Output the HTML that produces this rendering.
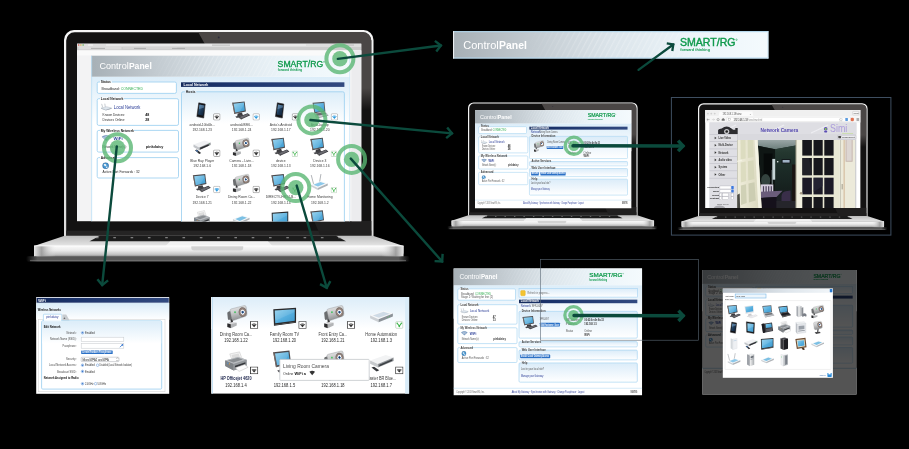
<!DOCTYPE html>
<html><head><meta charset="utf-8"><title>ControlPanel overview</title>
<style>
html,body{margin:0;padding:0;background:#000;}
body{width:909px;height:449px;overflow:hidden;font-family:"Liberation Sans", sans-serif;}
svg{display:block;position:absolute;left:0;top:0;}
text{font-family:"Liberation Sans", sans-serif;}
</style></head><body>
<svg width="909" height="449" viewBox="0 0 909 449">
<defs>
<filter id="softblur" x="0" y="0" width="909" height="449" filterUnits="userSpaceOnUse" color-interpolation-filters="sRGB"><feGaussianBlur stdDeviation="0.42"/></filter>

<linearGradient id="g-scr" x1="0" y1="0" x2="1" y2="1">
 <stop offset="0" stop-color="#8fd0ee"/><stop offset="0.55" stop-color="#55aede"/><stop offset="1" stop-color="#3f98cc"/>
</linearGradient>
<linearGradient id="g-cam" x1="0" y1="0" x2="0.3" y2="1">
 <stop offset="0" stop-color="#eeeeee"/><stop offset="0.5" stop-color="#c9cacb"/><stop offset="1" stop-color="#8e9092"/>
</linearGradient>
<linearGradient id="g-silver" x1="0" y1="0" x2="0" y2="1">
 <stop offset="0" stop-color="#fafafa"/><stop offset="1" stop-color="#b4b8bc"/>
</linearGradient>
<linearGradient id="g-silverh" x1="0" y1="0" x2="1" y2="0">
 <stop offset="0" stop-color="#f4f4f4"/><stop offset="1" stop-color="#a8acb0"/>
</linearGradient>
<linearGradient id="g-dark" x1="0" y1="0" x2="1" y2="1">
 <stop offset="0" stop-color="#5a5a5e"/><stop offset="1" stop-color="#1c1c1e"/>
</linearGradient>
<linearGradient id="g-phone" x1="0" y1="0" x2="1" y2="1">
 <stop offset="0" stop-color="#4a7ea8"/><stop offset="0.5" stop-color="#1d3a58"/><stop offset="1" stop-color="#0c1a2c"/>
</linearGradient>
<radialGradient id="g-lens" cx="0.5" cy="0.5" r="0.5">
 <stop offset="0" stop-color="#1c2c4c"/><stop offset="0.24" stop-color="#3c6ea8"/><stop offset="0.34" stop-color="#f6f6f6"/>
 <stop offset="0.5" stop-color="#e4e4e4"/><stop offset="0.56" stop-color="#9c8c86"/><stop offset="0.88" stop-color="#86766f"/><stop offset="1" stop-color="#6a625e"/>
</radialGradient>

<symbol id="i-desktop" viewBox="0 0 40 40" preserveAspectRatio="none">
 <polygon points="13,26.5 22,24.8 24,30.6 12,32.6" fill="#3c3c40"/>
 <polygon points="8,32.8 24,29.3 27,31.8 11,35.8" fill="#4a4a4e"/>
 <polygon points="1.6,4.6 27.6,2 30.2,22.4 6,27.6" fill="#4a4a4e"/>
 <polygon points="1.6,4.6 3.4,4.4 7.6,27.2 6,27.6" fill="#7a6a64"/>
 <polygon points="4.4,6.6 26,4.4 28.2,20.6 7.8,24.8" fill="url(#g-scr)"/>
 <polygon points="4.4,6.6 26,4.4 26.4,8.6 16,25 7.8,24.8" fill="#fff" opacity="0.12"/>
 <polygon points="15,33.6 34,26.2 39.5,30.2 21,38.6" fill="#38383c"/>
 <polygon points="17,33.8 33.6,27.3 37,29.9 21.4,37" fill="#6a6a70"/>
 <polygon points="15,33.6 21,38.6 21,39.7 15,34.8" fill="#222"/>
</symbol>

<symbol id="i-imac" viewBox="0 0 40 40" preserveAspectRatio="none">
 <polygon points="14,27 22,26 23,32 13,33" fill="#c8c8cc"/>
 <polygon points="9,33 25,30.5 27,32.5 11,35.5" fill="#dcdce0"/>
 <polygon points="3,6 28,3 29,23 6,27.5" fill="#e4e4e8"/>
 <polygon points="5,8 26.4,5.2 27.2,19.6 7.6,23.4" fill="url(#g-scr)"/>
 <polygon points="15,35 34,29 39,32 21,39" fill="#ececf0" stroke="#bbb" stroke-width="0.6"/>
</symbol>

<symbol id="i-phone" viewBox="0 0 40 40" preserveAspectRatio="none">
 <polygon points="14,5 27.6,7.6 24.4,36 10,33" fill="#121214" stroke="#2c2c30" stroke-width="1.2" stroke-linejoin="round"/>
 <polygon points="15.4,8.6 26,10.6 23.4,31.2 12.6,28.8" fill="url(#g-phone)"/>
 <polygon points="15.4,8.6 26,10.6 25.4,14.6 14,18" fill="#9cc4e4" opacity="0.35"/>
</symbol>

<symbol id="i-tablet" viewBox="0 0 40 40" preserveAspectRatio="none">
 <polygon points="8,4 31,7 29.5,37 9,33" fill="#1a1a1c" stroke="#333" stroke-width="1" stroke-linejoin="round"/>
 <polygon points="11,8 28.4,10.4 27.2,32.6 11.6,29.6" fill="url(#g-scr)"/>
 <polygon points="11,8 28.4,10.4 28,18 11.4,24" fill="#fff" opacity="0.15"/>
</symbol>

<symbol id="i-laptop" viewBox="0 0 40 40" preserveAspectRatio="none">
 <polygon points="6,5 31,3 33,23 10,26" fill="#5a5a5e"/>
 <polygon points="8,7 29.4,5.2 31,21.4 11.4,23.8" fill="url(#g-scr)"/>
 <polygon points="10,26 33,23 39.5,30 14,35.5" fill="#c4c6ca"/>
 <polygon points="12.5,26.8 32,24.2 35.4,28 15.4,31.4" fill="#6c6e72"/>
 <polygon points="14,35.5 39.5,30 39.5,31.4 14,37" fill="#8a8c90"/>
 <polygon points="10,26 14,35.5 14,37 9.6,27" fill="#9a9ca0"/>
</symbol>

<symbol id="i-laptopdark" viewBox="0 0 40 40" preserveAspectRatio="none">
 <polygon points="4,7 29,4 31,22 9,26" fill="#2c2c30"/>
 <polygon points="6,9 27.4,6.4 29,20.4 10.2,23.8" fill="url(#g-scr)"/>
 <polygon points="9,26 31,22 39,29 15,35" fill="#3a3a3e"/>
 <polygon points="12,26.6 30.4,23.4 34.6,27.2 15,31" fill="#1c1c20"/>
 <polygon points="15,35 39,29 39,30.4 15,36.6" fill="#222"/>
</symbol>

<symbol id="i-bluray" viewBox="0 0 40 40" preserveAspectRatio="none">
 <polygon points="3,16 26,8 39,12 15,22" fill="#f0f1f3"/>
 <polygon points="3,16 15,22 15,27.5 3,21" fill="#c2c5c9"/>
 <polygon points="15,22 39,12 39,17 15,27.5" fill="#8c9094"/>
 <polygon points="17,22.8 35,15.2 35,18.4 17,26" fill="#2a2c30"/>
 <circle cx="37" cy="14.6" r="0.9" fill="#4ac060"/>
 <polygon points="6,27.5 10,26 19,33.5 15,35.5" fill="#2e3034"/>
 <polygon points="7.5,28 10,27 13,29.6 10.4,30.6" fill="#4a7ec0"/>
</symbol>

<symbol id="i-switch" viewBox="0 0 40 40" preserveAspectRatio="none">
 <polygon points="3,17 27,8 39,12 15,23" fill="#f2f3f4"/>
 <polygon points="3,17 15,23 15,29 3,22.5" fill="#c6c9cc"/>
 <polygon points="15,23 39,12 39,18 15,29" fill="#8e9296"/>
 <polygon points="17,24.4 37,15.2 37,17.6 17,27" fill="#3c4044"/>
 <polygon points="5,29 9,27.6 17,33.6 13,35.4" fill="#34363a"/>
</symbol>

<symbol id="i-box" viewBox="0 0 40 40" preserveAspectRatio="none">
 <polygon points="3,18 24,10 38,14.5 16,24" fill="#f6f7f8"/>
 <polygon points="7,17.8 23.6,11.6 33.6,14.8 16.4,21.6" fill="#cfdbe6"/>
 <polygon points="3,18 16,24 16,29 3,22.6" fill="#ccd0d4"/>
 <polygon points="16,24 38,14.5 38,19.4 16,29" fill="#8c9298"/>
 <circle cx="30" cy="20.6" r="0.8" fill="#4ac060"/><circle cx="33" cy="19.2" r="0.8" fill="#4ac060"/>
</symbol>

<symbol id="i-scanner" viewBox="0 0 40 40" preserveAspectRatio="none">
 <polygon points="3,20 23,12 38,17 17,26.5" fill="#f4f6f8"/>
 <polygon points="8,19.8 22.6,14 32.6,17.2 17.4,23.8" fill="#7cc0e4"/>
 <polygon points="3,20 17,26.5 17,30 3,23.4" fill="#ccd0d4"/>
 <polygon points="17,26.5 38,17 38,20.6 17,30" fill="#b0b4b8"/>
</symbol>

<symbol id="i-camera" viewBox="0 0 40 40" preserveAspectRatio="none">
 <polygon points="8.4,24 12.6,23 13.2,32 9.8,32.6" fill="#38383a"/>
 <polygon points="3,31.6 9.4,30.2 9.4,39.3 3,37.6" fill="#2c2c2e"/>
 <polygon points="9.4,31 19.8,30.4 19.8,35 9.4,39.3" fill="#b2b4b6"/>
 <polygon points="3,31.6 12,29.4 19.8,30.4 9.4,32.8" fill="#dadadc"/>
 <path d="M3 15 Q3 13 5 12.4 L9 11 L12 24.6 L6.5 25.8 Q4.4 26 4 23.8 Z" fill="#6c6e70"/>
 <path d="M8 11 Q7.6 8.6 10 8 L33 2.6 Q36 2 36.6 5 L38 16 Q38.4 19 35.4 20 L14.6 26.6 Q11.6 27.4 11 24.4 Z" fill="url(#g-cam)" stroke="#858789" stroke-width="0.6"/>
 <ellipse cx="30.2" cy="13.2" rx="7" ry="7.9" fill="url(#g-lens)" transform="rotate(-12 30.2 13.2)"/>
 <rect x="15.4" y="12" width="2.7" height="2.7" fill="#3cc05a"/>
</symbol>

<symbol id="i-camera2" viewBox="0 0 40 40" preserveAspectRatio="none">
 <polygon points="20,22 23.4,22 22,34 19,34" fill="#3a3a3c"/>
 <polygon points="12,33.5 26,32 29,35 16,38" fill="#444446"/>
 <path d="M9 9 Q9 5.5 12.5 5 L27 2.5 Q31 2 31.6 5.6 L33.4 18 Q33.8 21.5 30.4 22.4 L15 26 Q11.4 26.6 10.8 23 Z" fill="url(#g-cam)" stroke="#8c8e90" stroke-width="0.7"/>
 <ellipse cx="26.4" cy="12.4" rx="6.6" ry="7.6" fill="url(#g-lens)" transform="rotate(-12 26.4 12.4)"/>
</symbol>

<symbol id="i-tv" viewBox="0 0 40 40" preserveAspectRatio="none">
 <polygon points="2,7 37,4.5 37,30 3,35.5" fill="#2a2a2c"/>
 <polygon points="4.2,9.2 35,7 35,27.8 5,32.6" fill="url(#g-scr)"/>
 <polygon points="4.2,9.2 35,7 35,12 5,28" fill="#fff" opacity="0.1"/>
 <polygon points="3,35.5 37,30 37,31.6 3,37.2" fill="#111"/>
</symbol>

<symbol id="i-router" viewBox="0 0 40 40" preserveAspectRatio="none">
 <line x1="8" y1="22" x2="3.5" y2="5" stroke="#9a9ea2" stroke-width="1.6" stroke-linecap="round"/>
 <line x1="21" y1="17.5" x2="23.5" y2="3" stroke="#9a9ea2" stroke-width="1.6" stroke-linecap="round"/>
 <polygon points="3,24 23,16.5 38,21.5 17,30.5" fill="#f4f6f8"/>
 <polygon points="8,23.8 22.6,18.4 32.4,21.6 17.4,27.6" fill="#8cc8ea"/>
 <polygon points="3,24 17,30.5 17,34.5 3,27.6" fill="#ccd0d4"/>
 <polygon points="17,30.5 38,21.5 38,25.4 17,34.5" fill="#aeb2b6"/>
</symbol>

<symbol id="i-printer" viewBox="0 0 40 40" preserveAspectRatio="none">
 <polygon points="11,6 26,2.5 30,14 15,18.5" fill="#f4f4f4" stroke="#b4b4b4" stroke-width="0.6"/>
 <polygon points="13.5,8 24.6,5.4 26.6,11 15.6,14" fill="#dcdcdc"/>
 <polygon points="4,17 24,11 37,16 37,26 17,34 4,26.5" fill="#a2a6aa"/>
 <polygon points="4,17 24,11 37,16 17,23" fill="#b9bcc0"/>
 <polygon points="8,17.2 23.6,12.6 31,15.4 16.6,20.4" fill="#8a8e92"/>
 <polygon points="4,17 17,23 17,34 4,26.5" fill="#7e8286"/>
 <polygon points="17,23 37,16 37,26 17,34" fill="#94989c"/>
 <polygon points="19,26 35,20 35,23 19,29.4" fill="#36383c"/>
 <polygon points="19.6,29.4 34,24 39.4,28.6 25.4,35.6" fill="#fdfdfd" stroke="#a8a8a8" stroke-width="0.6"/>
 <circle cx="8" cy="21.6" r="0.9" fill="#4a9ae0"/><circle cx="10.6" cy="22.8" r="0.9" fill="#e8a040"/>
</symbol>

<symbol id="i-copier" viewBox="0 0 40 40" preserveAspectRatio="none">
 <polygon points="6,6 30,4 34,9 10,11.5" fill="#f2f4f6" stroke="#b8bcc0" stroke-width="0.6"/>
 <polygon points="10,11.5 34,9 34,34 10,37.5" fill="#e6e8ec" stroke="#b8bcc0" stroke-width="0.6"/>
 <polygon points="6,6 10,11.5 10,37.5 6,32" fill="#bcc0c6"/>
 <polygon points="14,16 30,14.4 30,24 14,26" fill="#9aa0a8"/>
 <polygon points="13,29 31,27 31,29 13,31" fill="#8a9098"/>
</symbol>

<symbol id="i-tower" viewBox="0 0 40 40" preserveAspectRatio="none">
 <polygon points="10,5 22,2.5 30,5 18,8" fill="#e6e8ea"/>
 <polygon points="10,5 18,8 18,38 10,33.5" fill="#9ea2a8"/>
 <polygon points="18,8 30,5 30,34 18,38" fill="url(#g-silverh)"/>
 <polygon points="20,11 28,9.2 28,14 20,16" fill="#6a7078"/>
 <polygon points="20,18 28,16.4 28,18 20,19.8" fill="#8a9098"/>
</symbol>

<symbol id="i-nas" viewBox="0 0 40 40" preserveAspectRatio="none">
 <polygon points="11,5 24,2.5 31,5 18,8" fill="#f6f7f8"/>
 <polygon points="11,5 18,8 18,38 11,33.5" fill="#f0f2f4" stroke="#c4c8cc" stroke-width="0.5"/>
 <polygon points="18,8 31,5 31,34 18,38" fill="#c0c4c8"/>
 <polygon points="23,9 29,7.6 29,32 23,34.4" fill="#7a8088"/>
 <circle cx="13.5" cy="11" r="0.9" fill="#3cc05a"/><circle cx="13.5" cy="14" r="0.9" fill="#3cc05a"/>
</symbol>

<symbol id="i-whitebox" viewBox="0 0 40 40" preserveAspectRatio="none">
 <polygon points="11,5 23,3 29,5.5 17,8" fill="#fafbfc"/>
 <polygon points="11,5 17,8 17,37 11,33" fill="#d4d8dc"/>
 <polygon points="17,8 29,5.5 29,33.5 17,37" fill="#eef0f3" stroke="#c8ccd0" stroke-width="0.5"/>
 <polygon points="19,12 27,10.4 27,12 19,13.6" fill="#a8c4dc"/>
</symbol>

<symbol id="i-blacktower" viewBox="0 0 40 40" preserveAspectRatio="none">
 <polygon points="10,5 22,3 31,6 19,8.5" fill="#4a4a4e"/>
 <polygon points="10,5 19,8.5 19,38 10,33.5" fill="#38383c"/>
 <polygon points="19,8.5 31,6 31,34 19,38" fill="#1e1e22"/>
</symbol>

<symbol id="i-console" viewBox="0 0 40 40" preserveAspectRatio="none">
 <polygon points="8,5 16,3 22,5 14,7.4" fill="#eceef0"/>
 <polygon points="8,5 14,7.4 14,36 8,32" fill="#a8acb2"/>
 <polygon points="14,7.4 22,5 22,33 14,36" fill="url(#g-silverh)"/>
 <polygon points="22,10 27,8.6 27,31 22,33" fill="#8a8e94"/>
 <path d="M24 29 Q28 24 33 26 Q37 27.6 36 33 Q34 36 31 33 L28 33.6 Q25 36.6 23.6 33.6 Z" fill="#7c8088"/>
</symbol>

<symbol id="i-voip" viewBox="0 0 40 40" preserveAspectRatio="none">
 <polygon points="4,10 33,6 36,30 8,35.5" fill="#3a3a3e"/>
 <polygon points="4,10 11,9 14,34 8,35.5" fill="#1c1c20"/>
 <polygon points="15,11 31,8.8 32.4,19 16,21.6" fill="url(#g-scr)"/>
 <polygon points="16.4,24 33,21.4 34,29 17.4,32" fill="#5a5a60"/>
</symbol>

<symbol id="i-frame" viewBox="0 0 40 40" preserveAspectRatio="none">
 <polygon points="5,7 33,4 36,30 9,35" fill="#6a4a30"/>
 <polygon points="8.4,10.2 30.4,7.8 32.6,27.2 11.6,31" fill="#e8e0c8"/>
 <polygon points="10.6,12.4 28.6,10.4 30.4,25.4 13.2,28.4" fill="url(#g-scr)"/>
 <polygon points="22,33 29,31.6 31,37 26,38" fill="#4a3420"/>
</symbol>

<!-- small status boxes -->
<symbol id="s-wifi" viewBox="0 0 10 10" preserveAspectRatio="none">
 <rect x="0.6" y="0.6" width="8.8" height="8.8" rx="1.6" fill="#fff" stroke="#8a8a8a" stroke-width="1"/>
 <path d="M5 8 L1.8 4.2 Q5 1.8 8.2 4.2 Z" fill="#2c2c2c"/>
 <path d="M2.6 4.9 Q5 3.2 7.4 4.9" fill="none" stroke="#fff" stroke-width="0.6"/>
</symbol>
<symbol id="s-wifisq" viewBox="0 0 10 10" preserveAspectRatio="none">
 <rect x="0.5" y="0.5" width="9" height="9" fill="#fff" stroke="#2a2a2a" stroke-width="1"/>
 <path d="M5 7.8 L1.9 4.2 Q5 1.9 8.1 4.2 Z" fill="#2c2c2c"/>
 <path d="M2.8 5 Q5 3.4 7.2 5" fill="none" stroke="#fff" stroke-width="0.6"/>
</symbol>
<symbol id="s-wifib" viewBox="0 0 10 10" preserveAspectRatio="none">
 <rect x="0.6" y="0.6" width="8.8" height="8.8" rx="1.6" fill="#fff" stroke="#a8a8a8" stroke-width="1"/>
 <path d="M5 8 L1.8 4.2 Q5 1.8 8.2 4.2 Z" fill="#2a9ae0"/>
 <path d="M2.6 4.9 Q5 3.2 7.4 4.9" fill="none" stroke="#fff" stroke-width="0.6"/>
</symbol>
<symbol id="s-eth" viewBox="0 0 10 10" preserveAspectRatio="none">
 <rect x="0.6" y="0.6" width="8.8" height="8.8" rx="1.2" fill="#fff" stroke="#a9c4a9" stroke-width="0.9"/>
 <path d="M2.4 2.6 L5 6.4 L7.6 2.6" fill="none" stroke="#3cb44a" stroke-width="1.3"/>
 <circle cx="2.4" cy="2.6" r="0.9" fill="#3cb44a"/><circle cx="7.6" cy="2.6" r="0.9" fill="#3cb44a"/><circle cx="5" cy="7" r="1" fill="#3cb44a"/>
</symbol>

<!-- left column small icons -->
<symbol id="s-router" viewBox="0 0 22 14" preserveAspectRatio="none">
 <line x1="4" y1="8" x2="2" y2="1" stroke="#8a94a0" stroke-width="0.9"/>
 <line x1="9" y1="7" x2="8" y2="0.5" stroke="#8a94a0" stroke-width="0.9"/>
 <polygon points="1,9 12,6.4 21,9 10,12.6" fill="#dfe7ee" stroke="#9aa6b2" stroke-width="0.6"/>
 <polygon points="1,9 10,12.6 10,13.8 1,10.4" fill="#aab4be"/>
 <polygon points="10,12.6 21,9 21,10.4 10,13.8" fill="#8e98a4"/>
</symbol>
<symbol id="s-wifiicon" viewBox="0 0 20 14" preserveAspectRatio="none">
 <path d="M10 13 L1 4.4 Q10 -2.4 19 4.4 Z" fill="#7a9cc4"/>
 <path d="M3.4 6.4 Q10 1.4 16.6 6.4" fill="none" stroke="#fff" stroke-width="1.1"/>
 <path d="M5.8 8.8 Q10 5.6 14.2 8.8" fill="none" stroke="#fff" stroke-width="1.1"/>
 <path d="M10 13 L1 4.4 Q10 -2.4 19 4.4 Z" fill="none" stroke="#5a7ca8" stroke-width="0.6"/>
</symbol>
<symbol id="s-globe" viewBox="0 0 14 14" preserveAspectRatio="none">
 <circle cx="7" cy="7" r="6.2" fill="#4a9ad4" stroke="#2a6aa4" stroke-width="0.8"/>
 <path d="M3 4 Q6 2 8 4.6 Q10 7 7 8 Q4 8.4 3 4 Z" fill="#e8f2f8"/>
 <path d="M8 9 Q11 8 11.6 10 Q10 12.4 8 11.6 Z" fill="#e8f2f8"/>
 <circle cx="7" cy="7" r="6.2" fill="none" stroke="#1c4a7c" stroke-width="0.5"/>
</symbol>


<linearGradient id="lg-front" x1="0" y1="0" x2="0" y2="1">
 <stop offset="0" stop-color="#fbfbfb"/><stop offset="0.45" stop-color="#e9e9e9"/>
 <stop offset="0.8" stop-color="#c4c4c4"/><stop offset="1" stop-color="#8e8e8e"/>
</linearGradient>
<linearGradient id="lg-capl" x1="0" y1="0" x2="1" y2="0">
 <stop offset="0" stop-color="#e8e8e8"/><stop offset="0.35" stop-color="#9a9a9a" stop-opacity="0.9"/>
 <stop offset="1" stop-color="#e8e8e8" stop-opacity="0"/>
</linearGradient>
<linearGradient id="lg-capr" x1="1" y1="0" x2="0" y2="0">
 <stop offset="0" stop-color="#e8e8e8"/><stop offset="0.35" stop-color="#9a9a9a" stop-opacity="0.9"/>
 <stop offset="1" stop-color="#e8e8e8" stop-opacity="0"/>
</linearGradient>
<linearGradient id="lg-top" x1="0" y1="0" x2="0" y2="1">
 <stop offset="0" stop-color="#bdbdbd"/><stop offset="1" stop-color="#e6e6e6"/>
</linearGradient>
<linearGradient id="lg-glare" gradientUnits="userSpaceOnUse" x1="0" y1="58" x2="0" y2="80">
 <stop offset="0" stop-color="#4a4645"/><stop offset="1" stop-color="#4a4645" stop-opacity="0"/>
</linearGradient>
<linearGradient id="lg-rim" x1="0" y1="0" x2="0" y2="1">
 <stop offset="0" stop-color="#f6f6f6"/><stop offset="1" stop-color="#dcdcdc"/>
</linearGradient>
<linearGradient id="lg-shadow" x1="0" y1="0" x2="1" y2="0">
 <stop offset="0" stop-color="#555" stop-opacity="0"/><stop offset="0.03" stop-color="#585858"/>
 <stop offset="0.97" stop-color="#585858"/><stop offset="1" stop-color="#555" stop-opacity="0"/>
</linearGradient>
<clipPath id="cp-lid"><path d="M10.6 2.2 H298.9 A8.4 8.4 0 0 1 307.3 10.6 V205.8 H2.2 V10.6 A8.4 8.4 0 0 1 10.6 2.2 Z"/></clipPath>
<symbol id="laptop" viewBox="-40 0 390 235" overflow="visible">
 <!-- shadow under base -->
 <rect x="-38" y="226.2" width="384" height="5.2" rx="2" fill="url(#lg-shadow)"/>
 <rect x="-34" y="229.9" width="376" height="1.3" fill="#7c7c7c" opacity="0.6"/>
 <!-- lid -->
 <path d="M10 0 H299.5 A10 10 0 0 1 309.5 10 V207 H0 V10 A10 10 0 0 1 10 0 Z" fill="url(#lg-rim)"/>
 <path d="M10.6 2.2 H298.9 A8.4 8.4 0 0 1 307.3 10.6 V207 H2.2 V10.6 A8.4 8.4 0 0 1 10.6 2.2 Z" fill="#131212"/>
 <rect x="2.2" y="200.6" width="305.1" height="5.4" fill="#252424"/>
 <g clip-path="url(#cp-lid)" class="glare">
  <polygon points="133,0 309.5,0 309.5,84 180,84" fill="url(#lg-glare)"/>
  <polygon points="250,191 309.5,191 309.5,207 257,207" fill="#201f1f"/>
 </g>
 <circle cx="154.7" cy="7.4" r="0.9" fill="#2a2a3a"/>
 <!-- base top surface -->
 <polygon points="0.6,205.8 308.9,205.8 339.5,216 -30,216" fill="url(#lg-top)"/>
 <polygon points="36,205.8 272,205.8 282,211.2 25.5,211.2" fill="#1c1c1c"/>
 <g fill="#a8a8a8">
  <rect x="32.0" y="207.3" width="2.6" height="0.9"/><rect x="49.3" y="207.3" width="2.6" height="0.9"/><rect x="66.6" y="207.3" width="2.6" height="0.9"/><rect x="83.9" y="207.3" width="2.6" height="0.9"/><rect x="101.2" y="207.3" width="2.6" height="0.9"/><rect x="118.5" y="207.3" width="2.6" height="0.9"/><rect x="135.8" y="207.3" width="2.6" height="0.9"/><rect x="153.1" y="207.3" width="2.6" height="0.9"/><rect x="170.4" y="207.3" width="2.6" height="0.9"/><rect x="187.7" y="207.3" width="2.6" height="0.9"/><rect x="205.0" y="207.3" width="2.6" height="0.9"/><rect x="222.3" y="207.3" width="2.6" height="0.9"/><rect x="239.6" y="207.3" width="2.6" height="0.9"/><rect x="256.9" y="207.3" width="2.6" height="0.9"/><rect x="274.2" y="207.3" width="2.6" height="0.9"/>
 </g>
 <polygon points="106,211.6 204,211.6 208.5,216 101.5,216" fill="#f2f2f2"/>
 <!-- front face -->
 <path d="M-30 215.8 H339.5 V222.5 A4 4 0 0 1 335.5 226.5 H-26 A4 4 0 0 1 -30 222.5 Z" fill="url(#lg-front)"/>
 <rect x="-30" y="216" width="22" height="10.3" fill="url(#lg-capl)"/>
 <rect x="317.5" y="216" width="22" height="10.3" fill="url(#lg-capr)"/>
 <path d="M127.3 216 H179.2 V217.8 A2.6 2.6 0 0 1 176.6 220.4 H129.9 A2.6 2.6 0 0 1 127.3 217.8 Z" fill="#d2d2d2"/>
 <rect x="-30" y="215.6" width="369.5" height="0.7" fill="#fff"/>
</symbol>

<symbol id="laptop-ng" viewBox="-40 0 390 235" overflow="visible">
 <!-- shadow under base -->
 <rect x="-38" y="226.2" width="384" height="5.2" rx="2" fill="url(#lg-shadow)"/>
 <rect x="-34" y="229.9" width="376" height="1.3" fill="#7c7c7c" opacity="0.6"/>
 <!-- lid -->
 <path d="M10 0 H299.5 A10 10 0 0 1 309.5 10 V207 H0 V10 A10 10 0 0 1 10 0 Z" fill="url(#lg-rim)"/>
 <path d="M10.6 2.2 H298.9 A8.4 8.4 0 0 1 307.3 10.6 V207 H2.2 V10.6 A8.4 8.4 0 0 1 10.6 2.2 Z" fill="#131212"/>
 <rect x="2.2" y="200.6" width="305.1" height="5.4" fill="#252424"/>
 
 <circle cx="154.7" cy="7.4" r="0.9" fill="#2a2a3a"/>
 <!-- base top surface -->
 <polygon points="0.6,205.8 308.9,205.8 339.5,216 -30,216" fill="url(#lg-top)"/>
 <polygon points="36,205.8 272,205.8 282,211.2 25.5,211.2" fill="#1c1c1c"/>
 <g fill="#a8a8a8">
  <rect x="32.0" y="207.3" width="2.6" height="0.9"/><rect x="49.3" y="207.3" width="2.6" height="0.9"/><rect x="66.6" y="207.3" width="2.6" height="0.9"/><rect x="83.9" y="207.3" width="2.6" height="0.9"/><rect x="101.2" y="207.3" width="2.6" height="0.9"/><rect x="118.5" y="207.3" width="2.6" height="0.9"/><rect x="135.8" y="207.3" width="2.6" height="0.9"/><rect x="153.1" y="207.3" width="2.6" height="0.9"/><rect x="170.4" y="207.3" width="2.6" height="0.9"/><rect x="187.7" y="207.3" width="2.6" height="0.9"/><rect x="205.0" y="207.3" width="2.6" height="0.9"/><rect x="222.3" y="207.3" width="2.6" height="0.9"/><rect x="239.6" y="207.3" width="2.6" height="0.9"/><rect x="256.9" y="207.3" width="2.6" height="0.9"/><rect x="274.2" y="207.3" width="2.6" height="0.9"/>
 </g>
 <polygon points="106,211.6 204,211.6 208.5,216 101.5,216" fill="#f2f2f2"/>
 <!-- front face -->
 <path d="M-30 215.8 H339.5 V222.5 A4 4 0 0 1 335.5 226.5 H-26 A4 4 0 0 1 -30 222.5 Z" fill="url(#lg-front)"/>
 <rect x="-30" y="216" width="22" height="10.3" fill="url(#lg-capl)"/>
 <rect x="317.5" y="216" width="22" height="10.3" fill="url(#lg-capr)"/>
 <path d="M127.3 216 H179.2 V217.8 A2.6 2.6 0 0 1 176.6 220.4 H129.9 A2.6 2.6 0 0 1 127.3 217.8 Z" fill="#d2d2d2"/>
 <rect x="-30" y="215.6" width="369.5" height="0.7" fill="#fff"/>
</symbol>

<linearGradient id="lg-banner" x1="0" y1="0" x2="1" y2="0">
 <stop offset="0" stop-color="#a7b0b6"/><stop offset="0.22" stop-color="#bfc7cd"/>
 <stop offset="0.5" stop-color="#dbe4ea"/><stop offset="0.75" stop-color="#ebf4f9"/><stop offset="1" stop-color="#f4fafd"/>
</linearGradient>
<linearGradient id="lg-pagetop" x1="0" y1="0" x2="0" y2="1">
 <stop offset="0" stop-color="#dcedf9"/><stop offset="1" stop-color="#ffffff"/>
</linearGradient>
<linearGradient id="lg-fs" x1="0" y1="0" x2="0" y2="1">
 <stop offset="0" stop-color="#dbecf9"/><stop offset="1" stop-color="#ffffff"/>
</linearGradient>
<linearGradient id="lg-navy" x1="0" y1="0" x2="1" y2="0">
 <stop offset="0" stop-color="#142a5c"/><stop offset="0.3" stop-color="#1c346c"/><stop offset="1" stop-color="#324a80"/>
</linearGradient>
<pattern id="pt-hatch" width="4" height="4" patternUnits="userSpaceOnUse" patternTransform="rotate(-62)">
 <rect x="0" y="0" width="4" height="1.1" fill="#fff" opacity="0.22"/>
</pattern>
<linearGradient id="lg-hfade" x1="0" y1="0" x2="1" y2="0">
 <stop offset="0" stop-color="#fff" stop-opacity="0"/><stop offset="0.35" stop-color="#fff" stop-opacity="1"/>
 <stop offset="0.8" stop-color="#fff" stop-opacity="1"/><stop offset="1" stop-color="#fff" stop-opacity="0"/>
</linearGradient>
<mask id="mk-hatch" maskContentUnits="objectBoundingBox"><rect x="0" y="0" width="1" height="1" fill="url(#lg-hfade)"/></mask>


<linearGradient id="lg-fs2" x1="0" y1="0" x2="0" y2="1">
 <stop offset="0" stop-color="#dcedf9"/><stop offset="0.2" stop-color="#ffffff"/><stop offset="1" stop-color="#ffffff"/>
</linearGradient>
<linearGradient id="lg-mhead" x1="0" y1="0" x2="1" y2="0"><stop offset="0" stop-color="#b2bac2"/><stop offset="0.6" stop-color="#dfe6ec"/><stop offset="1" stop-color="#f2f6f9"/></linearGradient>
<clipPath id="scr1"><rect x="77" y="43.4" width="284.5" height="178"/></clipPath>
<clipPath id="cpclip1"><rect x="0" y="0" width="259" height="166"/></clipPath>
<clipPath id="cpclip2"><rect x="0" y="0" width="259" height="162.8"/></clipPath>
<clipPath id="camclip"><rect x="705.1" y="110" width="155.5" height="98"/></clipPath>

<linearGradient id="lg-room" x1="0" y1="0" x2="0" y2="1">
 <stop offset="0" stop-color="#2c403a"/><stop offset="0.12" stop-color="#24372f"/><stop offset="0.3" stop-color="#1d2e29"/>
 <stop offset="0.7" stop-color="#16201e"/><stop offset="1" stop-color="#221f2a"/>
</linearGradient>
<linearGradient id="lg-ceil" x1="0" y1="0" x2="0" y2="1">
 <stop offset="0" stop-color="#9aa6a6"/><stop offset="1" stop-color="#6c7e7c"/>
</linearGradient>
<linearGradient id="lg-door" x1="0" y1="0" x2="1" y2="0">
 <stop offset="0" stop-color="#f0eedc"/><stop offset="1" stop-color="#d9d7bd"/>
</linearGradient>
<clipPath id="vidclip"><rect x="737.1" y="140" width="118.2" height="68"/></clipPath>
<clipPath id="hzclip"><rect x="211.2" y="297" width="198.1" height="96.8"/></clipPath>
<clipPath id="cpclip3"><rect x="0" y="0" width="259" height="174.4"/></clipPath>
<clipPath id="cpclip4"><rect x="0" y="0" width="259" height="208.9"/></clipPath>
</defs>
<rect x="0" y="0" width="909" height="449" fill="#000"/>
<g filter="url(#softblur)">
<rect x="0" y="0" width="909" height="449" fill="#000"/>
<g transform="translate(64 30) scale(1.0000)" ><use href="#laptop" x="-40" y="0" width="390" height="235"/></g>
<g clip-path="url(#scr1)">
<rect x="77" y="43.4" width="284.5" height="178" fill="#f3f3f4"/>
<rect x="77" y="43.4" width="284.5" height="3.4" fill="#dedede"/>
<circle cx="78.7" cy="45.1" r="0.75" fill="#e0564c"/><circle cx="80.9" cy="45.1" r="0.75" fill="#e0b040"/><circle cx="83.1" cy="45.1" r="0.75" fill="#5cb84c"/>
<rect x="88" y="44.1" width="5" height="1.9" fill="#ececec" rx="0.5"/><rect x="106" y="44.1" width="200" height="1.9" fill="#e9e9e9" rx="0.5"/>
<rect x="212" y="44.7" width="18" height="0.8" fill="#b0b0b0"/><rect x="340" y="44.6" width="14" height="0.9" fill="#b8b8b8"/>
<rect x="77" y="46.8" width="284.5" height="3" fill="#cdcdcd"/>
<rect x="78.5" y="46.8" width="43" height="3" fill="#dcdcdc"/><rect x="123" y="46.8" width="54" height="3" fill="#d4d4d4"/>
<rect x="91" y="47.9" width="14" height="0.8" fill="#a2a2a2"/><rect x="134" y="47.9" width="12" height="0.8" fill="#a2a2a2"/><rect x="172" y="47.9" width="13" height="0.8" fill="#a2a2a2"/>
<rect x="77" y="49.8" width="284.5" height="0.5" fill="#b4b4b4"/>
<rect x="77" y="50.3" width="284.5" height="5.2" fill="#fafafa"/>
<rect x="351.6" y="50.4" width="10" height="171" fill="#ececee"/>
</g>
<g transform="translate(91.2 55.4) scale(1.0000)" ><g clip-path="url(#cpclip1)"><rect x="0" y="0" width="259" height="166" fill="#fff"/><rect x="0" y="21.3" width="259" height="46" fill="url(#lg-pagetop)"/><rect x="0" y="0" width="259" height="21.3" fill="url(#lg-banner)"/><g mask="url(#mk-hatch)"><rect x="56.98" y="0" width="155.4" height="21.3" fill="url(#pt-hatch)"/></g><text transform="translate(8.3 13.75) scale(0.9435 1)" font-size="9.6" fill="#fff">Control</text><text transform="translate(37.7 13.75) scale(0.8941 1)" font-size="9.6" fill="#fff" font-weight="bold">Panel</text><text transform="translate(186.4 11.65) scale(1.0081 1)" font-size="8.6" fill="#0f9a4c" stroke="#0f9a4c" stroke-width="0.34">SMART/RG</text><circle cx="232.8" cy="6.45" r="0.6" fill="none" stroke="#0f9a4c" stroke-width="0.4"/><text transform="translate(186.5 16) scale(0.8973 1)" font-size="3.5" fill="#129a4e" font-weight="bold">forward thinking</text><rect x="6" y="26.6" width="79.2" height="11.4" fill="#fff" stroke="#a3d2f1" stroke-width="0.9" rx="1.6"/><rect x="8.8" y="25.4" width="11.7" height="2.4" fill="#fff"/><text x="9.6" y="27.85" font-size="3.3" fill="#1c1c1c" font-weight="bold">Status</text><text transform="translate(10.4 34.5) scale(0.9784 1)" font-size="3.6" fill="#2b2b2b">Broadband: <tspan fill="#2fae4e">CONNECTED</tspan></text><rect x="6" y="43.3" width="81.3" height="26.7" fill="#fff" stroke="#a3d2f1" stroke-width="0.9" rx="1.6"/><rect x="8.8" y="42.1" width="23.71" height="2.4" fill="#fff"/><text x="9.6" y="44.55" font-size="3.3" fill="#1c1c1c" font-weight="bold">Local Network</text><use href="#s-router" x="9.4" y="47.9" width="11.5" height="7.4" /><text transform="translate(22.6 53.6) scale(0.7497 1)" font-size="5.6" fill="#2c3e98">Local Network</text><text transform="translate(11.4 60.9) scale(0.8717 1)" font-size="3.6" fill="#2b2b2b">Known Devices:</text><text x="54" y="60.9" font-size="3.6" fill="#111" font-weight="bold">48</text><text transform="translate(11.4 65.9) scale(0.8925 1)" font-size="3.6" fill="#2b2b2b">Devices Online:</text><text x="54" y="65.9" font-size="3.6" fill="#111" font-weight="bold">28</text><rect x="6" y="75" width="81.3" height="21.7" fill="#fff" stroke="#a3d2f1" stroke-width="0.9" rx="1.6"/><rect x="8.8" y="73.8" width="34" height="2.4" fill="#fff"/><text x="9.6" y="76.25" font-size="3.3" fill="#1c1c1c" font-weight="bold">My Wireless Network</text><use href="#s-wifiicon" x="10.2" y="79.4" width="9.6" height="6.4" /><text x="22.4" y="84.6" font-size="4.3" fill="#2c3e98" font-weight="bold">WiFi</text><text transform="translate(11.4 92.4) scale(0.9027 1)" font-size="3.3" fill="#2b2b2b">Network Name(s):</text><text transform="translate(54.6 92.4) scale(1.1496 1)" font-size="3.3" fill="#111" font-weight="bold">pinkdaisy</text><rect x="6" y="102.2" width="81.3" height="20.4" fill="#fff" stroke="#a3d2f1" stroke-width="0.9" rx="1.6"/><rect x="8.8" y="101" width="15.13" height="2.4" fill="#fff"/><text x="9.6" y="103.45" font-size="3.3" fill="#1c1c1c" font-weight="bold">Advanced</text><use href="#s-globe" x="11" y="106.9" width="6.8" height="6.8" /><text transform="translate(11.4 118) scale(0.9468 1)" font-size="3.5" fill="#2b2b2b">Active Port Forwards : 32</text><rect x="89.8" y="26.9" width="163.4" height="4.6" fill="url(#lg-navy)"/><text x="92.4" y="30.5" font-size="3.6" fill="#fff" font-weight="bold">Local Network</text><rect x="90.3" y="36.4" width="162.9" height="160" fill="url(#lg-fs2)" stroke="#a3d2f1" stroke-width="0.9" rx="1.6"/><rect x="93.6" y="35.2" width="11.5" height="2.4" fill="#e4f1fb"/><text x="94.6" y="37.6" font-size="3.5" fill="#1c1c1c" font-weight="bold">Hosts</text><use href="#i-phone" x="100.9" y="45" width="19" height="19.6" /><use href="#s-wifi" x="121.9" y="57.8" width="7.4" height="7.4" /><text x="111" y="70.5" font-size="3.35" fill="#3c3c3c" text-anchor="middle">android-10fa6b...</text><text x="111" y="75.8" font-size="3.35" fill="#3c3c3c" text-anchor="middle">192.168.1.23</text><use href="#i-desktop" x="140.3" y="45" width="19" height="19.6" /><use href="#s-wifib" x="161.3" y="57.8" width="7.4" height="7.4" /><text x="150.4" y="70.5" font-size="3.35" fill="#3c3c3c" text-anchor="middle">android-f88f6...</text><text x="150.4" y="75.8" font-size="3.35" fill="#3c3c3c" text-anchor="middle">192.168.1.24</text><use href="#i-phone" x="179.5" y="45" width="19" height="19.6" /><use href="#s-wifi" x="200.5" y="57.8" width="7.4" height="7.4" /><text x="189.6" y="70.5" font-size="3.35" fill="#3c3c3c" text-anchor="middle">Anita's Android</text><text x="189.6" y="75.8" font-size="3.35" fill="#3c3c3c" text-anchor="middle">192.168.1.17</text><use href="#i-laptop" x="218.5" y="45" width="19" height="19.6" /><use href="#s-wifib" x="239.5" y="57.8" width="7.4" height="7.4" /><text x="228.6" y="70.5" font-size="3.35" fill="#3c3c3c" text-anchor="middle">Anita-laptop</text><text x="228.6" y="75.8" font-size="3.35" fill="#3c3c3c" text-anchor="middle">192.168.1.20</text><use href="#i-bluray" x="100.9" y="81.3" width="19" height="19.6" /><use href="#s-wifi" x="121.9" y="94.1" width="7.4" height="7.4" /><text x="111" y="106.8" font-size="3.35" fill="#3c3c3c" text-anchor="middle">Blue Ray Player</text><text x="111" y="112.1" font-size="3.35" fill="#3c3c3c" text-anchor="middle">192.168.1.6</text><use href="#i-camera" x="140.3" y="81.3" width="19" height="19.6" /><use href="#s-wifi" x="161.3" y="94.1" width="7.4" height="7.4" /><text x="150.4" y="106.8" font-size="3.35" fill="#3c3c3c" text-anchor="middle">Camera - Livin...</text><text x="150.4" y="112.1" font-size="3.35" fill="#3c3c3c" text-anchor="middle">192.168.1.18</text><use href="#i-desktop" x="179.5" y="81.3" width="19" height="19.6" /><use href="#s-eth" x="200.5" y="95.2" width="6.3" height="6.3" /><text x="189.6" y="106.8" font-size="3.35" fill="#3c3c3c" text-anchor="middle">device</text><text x="189.6" y="112.1" font-size="3.35" fill="#3c3c3c" text-anchor="middle">192.168.1.13</text><use href="#i-desktop" x="218.5" y="81.3" width="19" height="19.6" /><use href="#s-eth" x="239.5" y="95.2" width="6.3" height="6.3" /><text x="228.6" y="106.8" font-size="3.35" fill="#3c3c3c" text-anchor="middle">Device 3</text><text x="228.6" y="112.1" font-size="3.35" fill="#3c3c3c" text-anchor="middle">192.168.1.16</text><use href="#i-desktop" x="100.9" y="117.6" width="19" height="19.6" /><use href="#s-wifib" x="121.9" y="130.4" width="7.4" height="7.4" /><text x="111" y="143.1" font-size="3.35" fill="#3c3c3c" text-anchor="middle">Device 7</text><text x="111" y="148.4" font-size="3.35" fill="#3c3c3c" text-anchor="middle">192.168.1.21</text><use href="#i-camera" x="140.3" y="117.6" width="19" height="19.6" /><use href="#s-wifi" x="161.3" y="130.4" width="7.4" height="7.4" /><text x="150.4" y="143.1" font-size="3.35" fill="#3c3c3c" text-anchor="middle">Dining Room Ca...</text><text x="150.4" y="148.4" font-size="3.35" fill="#3c3c3c" text-anchor="middle">192.168.1.22</text><use href="#i-desktop" x="179.5" y="117.6" width="19" height="19.6" /><use href="#s-eth" x="200.5" y="131.5" width="6.3" height="6.3" /><text x="189.6" y="143.1" font-size="3.35" fill="#3c3c3c" text-anchor="middle">DIRECTV-HR34-B...</text><text x="189.6" y="148.4" font-size="3.35" fill="#3c3c3c" text-anchor="middle">192.168.1.14</text><use href="#i-router" x="218.5" y="117.6" width="19" height="19.6" /><use href="#s-eth" x="239.5" y="131.5" width="6.3" height="6.3" /><text x="228.6" y="143.1" font-size="3.35" fill="#3c3c3c" text-anchor="middle">Home Monitoring</text><text x="228.6" y="148.4" font-size="3.35" fill="#3c3c3c" text-anchor="middle">192.168.1.2</text><use href="#i-printer" x="100.9" y="153.9" width="19" height="19.6" /><use href="#s-wifi" x="121.9" y="166.7" width="7.4" height="7.4" /><use href="#i-scanner" x="140.3" y="153.9" width="19" height="19.6" /><use href="#s-wifi" x="161.3" y="166.7" width="7.4" height="7.4" /><use href="#i-tv" x="179.5" y="153.9" width="19" height="19.6" /><use href="#s-eth" x="200.5" y="167.8" width="6.3" height="6.3" /><use href="#i-desktop" x="218.5" y="153.9" width="19" height="19.6" /><use href="#s-eth" x="239.5" y="167.8" width="6.3" height="6.3" /><rect x="0" y="0" width="0.9" height="166" fill="#b4dcf4"/><rect x="258.1" y="0" width="0.9" height="166" fill="#cfe8f8"/></g></g>
<g transform="translate(468 102.4) scale(0.5480)" ><use href="#laptop" x="-40" y="0" width="390" height="235"/></g>
<g transform="translate(475 110.1) scale(0.6046)" ><g clip-path="url(#cpclip2)"><rect x="0" y="0" width="259" height="162.8" fill="#fff"/><rect x="0" y="22" width="259" height="46" fill="url(#lg-pagetop)"/><rect x="0" y="0" width="259" height="22" fill="url(#lg-banner)"/><g mask="url(#mk-hatch)"><rect x="56.98" y="0" width="155.4" height="22" fill="url(#pt-hatch)"/></g><text transform="translate(8.3 14.1) scale(0.9435 1)" font-size="9.6" fill="#fff">Control</text><text transform="translate(37.7 14.1) scale(0.8941 1)" font-size="9.6" fill="#fff" font-weight="bold">Panel</text><text transform="translate(186.4 12) scale(1.0081 1)" font-size="8.6" fill="#0f9a4c" stroke="#0f9a4c" stroke-width="0.34">SMART/RG</text><circle cx="232.8" cy="6.8" r="0.6" fill="none" stroke="#0f9a4c" stroke-width="0.4"/><text transform="translate(186.5 16.35) scale(0.8973 1)" font-size="3.5" fill="#129a4e" font-weight="bold">forward thinking</text><rect x="6" y="27.4" width="79.2" height="11.4" fill="#fff" stroke="#a3d2f1" stroke-width="0.9" rx="1.6"/><rect x="8.8" y="26.2" width="11.7" height="2.4" fill="#fff"/><text x="9.6" y="28.65" font-size="4.4" fill="#444444" font-weight="bold">Status</text><text transform="translate(10.4 35.3) scale(0.8006 1)" font-size="4.4" fill="#555555">Broadband: <tspan fill="#2fae4e">CONNECTED</tspan></text><rect x="6" y="44.1" width="81.3" height="26.7" fill="#fff" stroke="#a3d2f1" stroke-width="0.9" rx="1.6"/><rect x="8.8" y="42.9" width="23.71" height="2.4" fill="#fff"/><text x="9.6" y="45.35" font-size="4.4" fill="#444444" font-weight="bold">Local Network</text><use href="#s-router" x="9.4" y="48.7" width="11.5" height="7.4" /><text transform="translate(22.6 54.4) scale(0.7497 1)" font-size="5.6" fill="#2c3e98">Local Network</text><text transform="translate(11.4 61.7) scale(0.7133 1)" font-size="4.4" fill="#555555">Known Devices:</text><text x="54" y="61.7" font-size="4.4" fill="#3a3a3a" font-weight="bold">48</text><text transform="translate(11.4 66.7) scale(0.7303 1)" font-size="4.4" fill="#555555">Devices Online:</text><text x="54" y="66.7" font-size="4.4" fill="#3a3a3a" font-weight="bold">28</text><rect x="6" y="75.8" width="81.3" height="21.7" fill="#fff" stroke="#a3d2f1" stroke-width="0.9" rx="1.6"/><rect x="8.8" y="74.6" width="34" height="2.4" fill="#fff"/><text x="9.6" y="77.05" font-size="4.4" fill="#444444" font-weight="bold">My Wireless Network</text><use href="#s-wifiicon" x="10.2" y="80.2" width="9.6" height="6.4" /><text x="22.4" y="85.4" font-size="4.4" fill="#2c3e98" font-weight="bold">WiFi</text><text transform="translate(11.4 93.2) scale(0.6771 1)" font-size="4.4" fill="#555555">Network Name(s):</text><text transform="translate(54.6 93.2) scale(0.8623 1)" font-size="4.4" fill="#3a3a3a" font-weight="bold">pinkdaisy</text><rect x="6" y="103" width="81.3" height="20.4" fill="#fff" stroke="#a3d2f1" stroke-width="0.9" rx="1.6"/><rect x="8.8" y="101.8" width="15.13" height="2.4" fill="#fff"/><text x="9.6" y="104.25" font-size="4.4" fill="#444444" font-weight="bold">Advanced</text><use href="#s-globe" x="11" y="107.7" width="6.8" height="6.8" /><text transform="translate(11.4 118.8) scale(0.7532 1)" font-size="4.4" fill="#555555">Active Port Forwards : 32</text><rect x="90" y="27.4" width="162.3" height="4.9" fill="url(#lg-navy)"/><text x="92.4" y="31.2" font-size="4.4" fill="#fff" font-weight="bold">Local Network</text><text x="92.4" y="37.6" font-size="4.4" fill="#2c3e98">Network</text><text transform="translate(105.6 37.6) scale(0.6928 1)" font-size="4.4" fill="#555555">/ Dining Room Camera</text><rect x="90" y="43.4" width="162.3" height="36.8" fill="url(#lg-fs)" stroke="#a3d2f1" stroke-width="0.9" rx="1.6"/><rect x="92.8" y="42.2" width="32.29" height="2.4" fill="#e4f1fb"/><text x="93.6" y="44.65" font-size="4.4" fill="#444444" font-weight="bold">Device Information</text><use href="#i-camera" x="96.2" y="49" width="19" height="20.5" /><text transform="translate(119.3 54.6) scale(0.7092 1)" font-size="4.4" fill="#555555">Dining Room Camera</text><rect x="118.6" y="59.2" width="27.4" height="5" fill="#2a70c6" rx="0.6"/><text transform="translate(119.6 62.9) scale(0.5791 1)" font-size="4.4" fill="#fff" font-weight="bold">Edit Hostname / Icon</text><text transform="translate(154 56.8) scale(0.7064 1)" font-size="4.4" fill="#555555">MAC Address</text><text transform="translate(179.6 56.8) scale(0.7359 1)" font-size="4.4" fill="#3a3a3a" font-weight="bold">00:62:6e:4e:8a:33</text><text transform="translate(154 62.2) scale(0.7076 1)" font-size="4.4" fill="#555555">IP Address</text><text transform="translate(179.6 62.2) scale(0.7314 1)" font-size="4.4" fill="#3a3a3a" font-weight="bold">192.168.1.5</text><text x="154" y="72" font-size="4.4" fill="#555555">Status</text><text x="179.6" y="72" font-size="4.4" fill="#555555">Online</text><text x="179.6" y="76.8" font-size="4.4" fill="#3a3a3a" font-weight="bold">WiFi</text><rect x="90" y="85" width="162.3" height="7.2" fill="url(#lg-fs)" stroke="#a3d2f1" stroke-width="0.9" rx="1.6"/><rect x="92.8" y="83.8" width="27.14" height="2.4" fill="#e4f1fb"/><text x="93.6" y="86.25" font-size="4.4" fill="#444444" font-weight="bold">Active Services</text><rect x="90" y="96.6" width="162.3" height="13.4" fill="url(#lg-fs)" stroke="#a3d2f1" stroke-width="0.9" rx="1.6"/><rect x="92.8" y="95.4" width="32.29" height="2.4" fill="#e4f1fb"/><text x="93.6" y="97.85" font-size="4.4" fill="#444444" font-weight="bold">Web User Interface</text><rect x="92.8" y="102.6" width="12.7" height="5.4" fill="#2a70c6" rx="0.6"/><text transform="translate(93.8 106.4) scale(0.5633 1)" font-size="4.4" fill="#fff" font-weight="bold">Add Link</text><rect x="108.2" y="102.6" width="41.7" height="5.4" fill="#2a70c6" rx="0.6"/><text transform="translate(109.4 106.4) scale(0.6197 1)" font-size="4.4" fill="#fff" font-weight="bold">Enable Local Gateway Access</text><rect x="90" y="114.2" width="162.3" height="26.4" fill="url(#lg-fs)" stroke="#a3d2f1" stroke-width="0.9" rx="1.6"/><rect x="92.8" y="113" width="8.26" height="2.4" fill="#e4f1fb"/><text x="93.6" y="115.45" font-size="4.4" fill="#444444" font-weight="bold">Help</text><text transform="translate(92.6 123) scale(0.7351 1)" font-size="4.4" fill="#555555">Lost in your local site?</text><text transform="translate(92.6 132.6) scale(0.7003 1)" font-size="4.4" fill="#2c3e98">Manage your Gateway</text><rect x="0" y="148.4" width="259" height="0.8" fill="#b9dcf3"/><text transform="translate(4 155) scale(0.6152 1)" font-size="4.4" fill="#6a6a6a">Copyright © 2013 SmartRG, Inc.</text><text transform="translate(80 155) scale(0.6491 1)" font-size="4.4" fill="#2c3e98">About My Gateway · Synchronize with Gateway · Change Passphrase · Logout</text><text transform="translate(243 154.8) scale(0.4006 1)" font-size="4.4" fill="#4a4a4a" font-weight="bold">SMART/RG</text></g></g>
<g transform="translate(698 103.2) scale(0.5480)" ><use href="#laptop" x="-40" y="0" width="390" height="235"/></g>
<g clip-path="url(#camclip)"><rect x="705.1" y="110" width="155.5" height="98" fill="#fff"/><rect x="705.1" y="110" width="155.5" height="6.4" fill="#f0f0f0"/><circle cx="707.9" cy="113.6" r="0.95" fill="#d0d0d0"/><circle cx="711.3" cy="113.6" r="0.95" fill="#d0d0d0"/><circle cx="714.7" cy="113.6" r="0.95" fill="#d0d0d0"/><path d="M718.5 116.4 l1.2 -5 h32.6 l1.2 5 z" fill="#fbfbfb"/><text transform="translate(722.5 114.9) scale(0.8669 1)" font-size="2.7" fill="#555">192.168.1.18/view</text><text x="749.7" y="114.9" font-size="2.4" fill="#555">x</text><rect x="852.7" y="111.4" width="6.2" height="3.6" fill="#f8f8f8" stroke="#bbb" stroke-width="0.4" rx="0.6"/><text x="853.5" y="114.2" font-size="1.9" fill="#444">Guest</text><rect x="705.1" y="116.4" width="155.5" height="6.1" fill="#f6f6f6"/><path d="M706.9 119.6 h2.6 m-2.6 0 l1 -0.9 m-1 0.9 l1 0.9" stroke="#777" stroke-width="0.45" fill="none"/><path d="M711.9 119.6 h2.6 m0 0 l-1 -0.9 m1 0.9 l-1 0.9" stroke="#bbb" stroke-width="0.45" fill="none"/><circle cx="718.1" cy="119.6" r="1.1" fill="none" stroke="#666" stroke-width="0.45"/><path d="M721.7 119.3 l1.5 -1.3 l1.5 1.3 v1.5 h-3 z" fill="#777"/><rect x="726.7" y="117.2" width="124" height="4.5" fill="#fff" stroke="#d4d4d4" stroke-width="0.4" rx="0.8"/><text transform="translate(733.5 120.7) scale(0.8622 1)" font-size="2.9" fill="#222">192.168.1.18</text><text transform="translate(748.3 120.7) scale(0.6734 1)" font-size="2.9" fill="#888">/view/view.shtml</text><rect x="728.7" y="118.2" width="2" height="2.6" fill="none" stroke="#999" stroke-width="0.35"/><path d="M840.9 118 l0.5 1.1 l1.2 0.1 l-0.9 0.8 l0.3 1.2 l-1.1 -0.7 l-1.1 0.7 l0.3 -1.2 l-0.9 -0.8 l1.2 -0.1 z" fill="none" stroke="#999" stroke-width="0.3"/><rect x="845.3" y="118" width="2.6" height="3" fill="#5a9ade" rx="0.4"/><rect x="850.7" y="117.8" width="3.2" height="3.4" fill="#e07050" rx="1.2"/><rect x="856.5" y="118.2" width="2.6" height="0.5" fill="#666"/><rect x="856.5" y="119.3" width="2.6" height="0.5" fill="#666"/><rect x="856.5" y="120.4" width="2.6" height="0.5" fill="#666"/><rect x="709.5" y="122.5" width="146.9" height="85.5" fill="#d9d9de"/><rect x="709.5" y="122.5" width="146.9" height="11.6" fill="#dedee3"/><line x1="719.1" y1="133" x2="736.1" y2="125" stroke="#f2f2f6" stroke-width="1.1" opacity="0.8"/><line x1="767.1" y1="133" x2="784.1" y2="125" stroke="#f2f2f6" stroke-width="1.1" opacity="0.8"/><line x1="811.1" y1="133" x2="828.1" y2="125" stroke="#f2f2f6" stroke-width="1.1" opacity="0.8"/><path d="M718.1 133.9 v-3.6 q0.2 -1 1.4 -1.2 l2.2 -0.5 q4.8 -3.9 9.8 -0.2 l1.6 1.3 h2.2 v-1.6 h2.4 v5.8 z" fill="#2c2c30"/><circle cx="726.7" cy="131.5" r="2.6" fill="#c8c8cc"/><circle cx="726.7" cy="131.5" r="1.3" fill="#222"/><text transform="translate(760.6 132.1) scale(0.8214 1)" font-size="5.8" fill="#5347ae" font-weight="bold">Network Camera</text><circle cx="825.7" cy="128.9" r="1.8" fill="#5a4cb4"/><circle cx="825.7" cy="128.9" r="1.0" fill="#8ed04c"/><path d="M824 130.9 h3.4 l-0.6 1.5 h-2.2 z" fill="#5a4cb4"/><text transform="translate(830.1 131.9) scale(0.8505 1)" font-size="10.4" fill="#ab9cda">Simi</text><rect x="842.1" y="133.1" width="11" height="0.7" fill="#c4dc9c"/><rect x="709.5" y="134.1" width="28.1" height="74" fill="#dfdfe4"/><rect x="709.5" y="134.1" width="28.1" height="0.5" fill="#b9b9c2"/><polygon points="714.7,136.7 714.7,139.3 716.5,138" fill="#333"/><text transform="translate(718.5 139.1) scale(0.8495 1)" font-size="3" fill="#333" font-weight="bold">Live Video</text><rect x="709.5" y="141.4" width="28.1" height="0.5" fill="#b9b9c2"/><polygon points="714.7,144 714.7,146.6 716.5,145.3" fill="#333"/><text transform="translate(718.5 146.4) scale(0.8149 1)" font-size="3" fill="#333" font-weight="bold">Multi-Device</text><rect x="709.5" y="148.7" width="28.1" height="0.5" fill="#b9b9c2"/><polygon points="714.7,151.3 714.7,153.9 716.5,152.6" fill="#333"/><text transform="translate(718.5 153.7) scale(0.8449 1)" font-size="3" fill="#333" font-weight="bold">Network</text><rect x="709.5" y="156" width="28.1" height="0.5" fill="#b9b9c2"/><polygon points="714.7,158.6 714.7,161.2 716.5,159.9" fill="#333"/><text transform="translate(718.5 161) scale(0.7806 1)" font-size="3" fill="#333" font-weight="bold">Audio video</text><rect x="709.5" y="163.3" width="28.1" height="0.5" fill="#b9b9c2"/><polygon points="714.7,165.9 714.7,168.5 716.5,167.2" fill="#333"/><text transform="translate(718.5 168.3) scale(0.8245 1)" font-size="3" fill="#333" font-weight="bold">System</text><rect x="709.5" y="170.6" width="28.1" height="0.5" fill="#b9b9c2"/><polygon points="714.7,173.2 714.7,175.8 716.5,174.5" fill="#333"/><text transform="translate(718.5 175.6) scale(0.8499 1)" font-size="3" fill="#333" font-weight="bold">Other</text><rect x="709.5" y="177.9" width="28.1" height="0.5" fill="#b9b9c2"/><rect x="737.5" y="134.1" width="0.5" height="74" fill="#b9b9c2"/><text x="719.1" y="188.4" font-size="2.3" fill="#222" font-weight="bold" text-anchor="end">Resolution</text><rect x="719.7" y="185.9" width="11.4" height="3" fill="#fff" stroke="#9a9aa4" stroke-width="0.3" rx="0.5"/><rect x="731.3" y="185.9" width="2.4" height="3" fill="#3a78e0" rx="0.5"/><text x="719.1" y="192" font-size="2.3" fill="#222" font-weight="bold" text-anchor="end">Mode</text><rect x="719.7" y="189.5" width="11.4" height="3" fill="#fff" stroke="#9a9aa4" stroke-width="0.3" rx="0.5"/><rect x="731.3" y="189.5" width="2.4" height="3" fill="#3a78e0" rx="0.5"/><text x="719.1" y="195.6" font-size="2.3" fill="#222" font-weight="bold" text-anchor="end">Bright</text><rect x="719.7" y="193.1" width="2" height="3" fill="#fff" stroke="#9a9aa4" stroke-width="0.3"/><rect x="722.5" y="193.1" width="6" height="3" fill="#fff" stroke="#9a9aa4" stroke-width="0.3"/><rect x="731.1" y="193.1" width="2.2" height="3" fill="#fff" stroke="#9a9aa4" stroke-width="0.3"/><text x="719.1" y="199.2" font-size="2.3" fill="#222" font-weight="bold" text-anchor="end">Contrast</text><rect x="719.7" y="196.7" width="2" height="3" fill="#fff" stroke="#9a9aa4" stroke-width="0.3"/><rect x="722.5" y="196.7" width="6" height="3" fill="#fff" stroke="#9a9aa4" stroke-width="0.3"/><rect x="731.1" y="196.7" width="2.2" height="3" fill="#fff" stroke="#9a9aa4" stroke-width="0.3"/><text x="716.9" y="204.5" font-size="2.3" fill="#444">Color Level</text><ellipse cx="719.5" cy="208.2" rx="5.6" ry="2.6" fill="#a8a8ae"/><rect x="837.5" y="135.3" width="18.4" height="3.6" fill="#ececf0" stroke="#a8a8b0" stroke-width="0.35" rx="0.6"/><rect x="838.3" y="136" width="2.8" height="2.2" fill="#444" rx="0.4"/><text transform="translate(841.9 138.1) scale(1.1927 1)" font-size="2.5" fill="#333">Snapshot</text><g clip-path="url(#vidclip)"><g transform="translate(737.1 140)"><rect x="0" y="0" width="118.2" height="68" fill="#1a2422"/><polygon points="20,0 60,0 60,5.2 38,9.2 20,5.6" fill="url(#lg-ceil)"/><polygon points="20,5.6 38,9.2 38,68 20,68" fill="#0f1614"/><polygon points="38,9.2 60,5.2 60,68 38,68" fill="url(#lg-room)"/><rect x="26.6" y="13.5" width="8.8" height="37" fill="#070a0a"/><rect x="35.2" y="18.9" width="2.9" height="20.8" fill="#c6d4d6"/><rect x="34.6" y="30" width="1" height="14" fill="#8c9a9c"/><rect x="44.5" y="19.2" width="9" height="4.2" fill="#12161a"/><rect x="45.5" y="20" width="7" height="2.6" fill="#9fb2c4"/><circle cx="40.6" cy="21.8" r="0.8" fill="#e8eeee"/><rect x="55" y="24.5" width="4.4" height="37" fill="#1a1412"/><ellipse cx="28.6" cy="40.5" rx="4.6" ry="6.4" fill="#33423e"/><rect x="23.6" y="44.4" width="12.6" height="7.6" fill="#d6cede"/><rect x="25.8" y="46.2" width="1.2" height="5.8" fill="#4a4058"/><rect x="28.4" y="46.2" width="1.2" height="5.8" fill="#4a4058"/><rect x="31" y="46.2" width="1.2" height="5.8" fill="#4a4058"/><rect x="33.6" y="46.2" width="1.2" height="5.8" fill="#4a4058"/><polygon points="23,51.8 45.4,50.8 39.4,57 23,58" fill="#6a5c7a"/><polygon points="23,58 39.4,57 39.4,68 23,68" fill="#15111b"/><path d="M44.4 68 V56 q0.4 -4 4.2 -4.8 l4.8 -0.6 v17.4 z" fill="#392e49"/><rect x="39.4" y="61" width="20.6" height="7.4" fill="#25252b"/><polygon points="0,0 20.5,0 24.5,68 0,68" fill="url(#lg-door)"/><polygon points="3.4,0 8.4,0 8.6,18.4 3.6,19.4" fill="#dcdcc0"/><polygon points="10.6,0 15.8,0 16.4,17 10.8,18" fill="#d8d9bc"/><polygon points="3.6,22.6 8.6,21.6 9.0,41 3.8,42.4" fill="#dcdcc0"/><polygon points="10.8,21.2 16.4,20.2 17.4,39 11.2,40.4" fill="#d6d7ba"/><polygon points="3.8,45.6 9.0,44.2 9.6,63 4.0,65" fill="#d0d1b6"/><polygon points="11.4,43.6 17.4,42.2 18.6,60.4 11.8,62.4" fill="#cccdb2"/><polygon points="0,55 2.6,53.4 3.0,68 0,68" fill="#4a4a44"/><polygon points="17.4,0 20.5,0 24.5,68 21.2,68" fill="#f4f3e4"/><polygon points="0,20.8 4.6,19.6 4.8,21 0,22.2" fill="#f4f3e4"/><rect x="58.8" y="0" width="59.6" height="68" fill="#e9e8d4"/><rect x="58.8" y="0" width="6.4" height="68" fill="#f1f0e0"/><rect x="58.5" y="0" width="0.8" height="68" fill="#8a8874"/><rect x="65.2" y="0" width="9.6" height="15.6" fill="#16161b"/><rect x="65.2" y="18" width="9.6" height="17.2" fill="#16161b"/><rect x="65.2" y="37.7" width="9.6" height="16.7" fill="#1b1926"/><rect x="65.2" y="57" width="9.6" height="12" fill="#16161b"/><rect x="76.4" y="0" width="9.2" height="15.6" fill="#16161b"/><rect x="76.4" y="18" width="9.2" height="17.2" fill="#16161b"/><rect x="76.4" y="37.7" width="9.2" height="16.7" fill="#1b1926"/><rect x="76.4" y="57" width="9.2" height="12" fill="#16161b"/><rect x="87.2" y="0" width="9.3" height="15.6" fill="#16161b"/><rect x="87.2" y="18" width="9.3" height="17.2" fill="#16161b"/><rect x="87.2" y="37.7" width="9.3" height="16.7" fill="#1b1926"/><rect x="87.2" y="57" width="9.3" height="12" fill="#16161b"/><polygon points="65.2,18 72,18 74.8,35.2 65.2,35.2" fill="#26262e" opacity="0.7"/><polygon points="76.4,37.7 85.6,37.7 85.6,46 76.4,52" fill="#2a2838" opacity="0.6"/><circle cx="64.0" cy="53.3" r="1.3" fill="#a89c88"/><rect x="102" y="0" width="16.4" height="68" fill="#eceada"/><rect x="103.2" y="0" width="0.6" height="68" fill="#b4b2a4"/><rect x="106.6" y="0" width="0.8" height="68" fill="#c9a884"/><rect x="108.5" y="0" width="7" height="21.7" fill="#c4b2ac"/><rect x="109.4" y="0" width="5.2" height="20.8" fill="#ddd6d2"/><rect x="104.6" y="44" width="0.9" height="5.4" fill="#9a9484"/></g></g></g>
<g transform="translate(453.1 31.2) scale(1.2174)" ><rect x="0" y="0" width="259" height="22.43" fill="url(#lg-banner)"/><g mask="url(#mk-hatch)"><rect x="56.98" y="0" width="155.4" height="22.43" fill="url(#pt-hatch)"/></g><rect x="0" y="0" width="259" height="0.8" fill="#b4dcf4"/><rect x="0" y="21.63" width="259" height="0.8" fill="#b4dcf4"/><rect x="0" y="0" width="0.8" height="22.43" fill="#f4f8fa"/><rect x="258.2" y="0" width="0.8" height="22.43" fill="#cfe6f5"/><text transform="translate(8.3 14.31) scale(0.9435 1)" font-size="9.6" fill="#fff">Control</text><text transform="translate(37.7 14.31) scale(0.8941 1)" font-size="9.6" fill="#fff" font-weight="bold">Panel</text><text transform="translate(186.4 12.21) scale(1.0081 1)" font-size="8.6" fill="#0f9a4c" stroke="#0f9a4c" stroke-width="0.34">SMART/RG</text><circle cx="232.8" cy="7.01" r="0.6" fill="none" stroke="#0f9a4c" stroke-width="0.4"/><text transform="translate(186.5 16.56) scale(0.8973 1)" font-size="3.5" fill="#129a4e" font-weight="bold">forward thinking</text></g>
<rect x="36.2" y="297" width="133" height="96.8" fill="#fff"/><rect x="36.6" y="297.8" width="132.2" height="4.9" fill="url(#lg-navy)"/><rect x="36.2" y="303" width="133" height="0.9" fill="#d3e8f6"/><text x="38.2" y="301.5" font-size="3.6" fill="#fff" font-weight="bold">WiFi</text><rect x="36.2" y="303.8" width="133" height="16" fill="url(#lg-pagetop)"/><rect x="38.6" y="319.5" width="126.4" height="72.2" fill="#fff" stroke="#d6d6d6" stroke-width="0.6"/><text transform="translate(37.8 310.8) scale(0.7914 1)" font-size="3.3" fill="#111" font-weight="bold">Wireless Networks</text><rect x="43.4" y="314.2" width="18.4" height="7" fill="#fff" stroke="#a3d2f1" stroke-width="0.7" rx="0.8"/><text transform="translate(46.2 318.4) scale(1.0622 1)" font-size="2.8" fill="#2c3e98">pinkdaisy</text><polygon points="62.4,320.6 62.4,314.6 66.2,314.6 69.6,320.6" fill="#c8ccd0"/><text x="63.4" y="318.6" font-size="3.2" fill="#444" font-weight="bold">+</text><rect x="41.6" y="320.9" width="120.1" height="68.2" fill="#fff" stroke="#a3d2f1" stroke-width="0.9" rx="1.2"/><rect x="42.1" y="321.4" width="119.1" height="22" fill="url(#lg-pagetop)"/><rect x="43.9" y="320.2" width="17.4" height="1" fill="#fff"/><text transform="translate(43.8 328.3) scale(0.8329 1)" font-size="3.3" fill="#111" font-weight="bold">Edit Network</text><text transform="translate(76.4 333.9) scale(0.8449 1)" font-size="3" fill="#4a4a4a" text-anchor="end">Network:</text><circle cx="82.5" cy="332.8" r="1.25" fill="#fff" stroke="#5a8ed0" stroke-width="0.5"/><circle cx="82.5" cy="332.8" r="0.78" fill="#3a78d0"/><text transform="translate(84.9 333.9) scale(0.8901 1)" font-size="3" fill="#333">Enabled</text><text transform="translate(76.4 340.3) scale(0.8687 1)" font-size="3" fill="#4a4a4a" text-anchor="end">Network Name (SSID):</text><rect x="81.2" y="337.2" width="42.6" height="4.4" fill="#fff" stroke="#c4c8cc" stroke-width="0.5"/><text transform="translate(76.4 346.9) scale(0.8395 1)" font-size="3" fill="#4a4a4a" text-anchor="end">Passphrase:</text><rect x="81.2" y="343.7" width="42.6" height="4.5" fill="#fff" stroke="#c4c8cc" stroke-width="0.5"/><path d="M119.8 347.2 L122.6 344.6" stroke="#3a78d0" stroke-width="0.8"/><circle cx="122.4" cy="344.9" r="0.9" fill="#3a78d0"/><rect x="81.2" y="350.4" width="31.5" height="3.7" fill="#2a70c6" rx="0.5"/><text transform="translate(82 353.3) scale(0.8628 1)" font-size="2.6" fill="#fff" font-weight="bold">Create Random Passphrase</text><text transform="translate(76.4 360.4) scale(0.8997 1)" font-size="3" fill="#4a4a4a" text-anchor="end">Security:</text><rect x="81.2" y="357.2" width="37.8" height="4.4" fill="#fff" stroke="#a8acb2" stroke-width="0.5" rx="0.8"/><text transform="translate(82.4 360.5) scale(0.9018 1)" font-size="2.9" fill="#222">Mixed WPA2 and WPA</text><path d="M116.4 358.6 l0.9 -0.9 l0.9 0.9 M116.4 360.2 l0.9 0.9 l0.9 -0.9" stroke="#444" stroke-width="0.4" fill="none"/><text transform="translate(76.4 366.3) scale(0.9112 1)" font-size="3" fill="#4a4a4a" text-anchor="end">Local Network Access:</text><circle cx="82.5" cy="365.2" r="1.25" fill="#fff" stroke="#5a8ed0" stroke-width="0.5"/><circle cx="82.5" cy="365.2" r="0.78" fill="#3a78d0"/><text transform="translate(84.9 366.3) scale(0.8901 1)" font-size="3" fill="#333">Enabled</text><circle cx="97.6" cy="365.2" r="1.25" fill="#fff" stroke="#5a8ed0" stroke-width="0.5"/><text transform="translate(99.6 366.3) scale(0.7118 1)" font-size="3" fill="#333">Disabled (Local Network Isolation)</text><text transform="translate(76.4 372.5) scale(0.8793 1)" font-size="3" fill="#4a4a4a" text-anchor="end">Broadcast SSID:</text><circle cx="82.5" cy="371.4" r="1.25" fill="#fff" stroke="#5a8ed0" stroke-width="0.5"/><circle cx="82.5" cy="371.4" r="0.78" fill="#3a78d0"/><text transform="translate(84.9 372.5) scale(0.8901 1)" font-size="3" fill="#333">Enabled</text><text transform="translate(43.8 379.4) scale(0.8181 1)" font-size="3.3" fill="#111" font-weight="bold">Network Assigned to Radio</text><circle cx="82.5" cy="383.7" r="1.25" fill="#fff" stroke="#5a8ed0" stroke-width="0.5"/><circle cx="82.5" cy="383.7" r="0.78" fill="#3a78d0"/><text transform="translate(84.9 384.9) scale(0.8456 1)" font-size="3" fill="#333">2.4GHz</text><circle cx="95.6" cy="383.7" r="1.25" fill="#fff" stroke="#5a8ed0" stroke-width="0.5"/><text transform="translate(97.4 384.9) scale(0.8456 1)" font-size="3" fill="#333">5.8GHz</text>
<g clip-path="url(#hzclip)"><rect x="211.2" y="297" width="198.1" height="96.8" fill="#fff"/><rect x="211.2" y="297" width="198.1" height="32" fill="url(#lg-pagetop)"/><rect x="211.2" y="297" width="0.9" height="96.8" fill="#f4f8fb"/><rect x="212.1" y="297" width="0.8" height="96.8" fill="#b9dcf3"/><rect x="405.1" y="297" width="4.2" height="96.8" fill="#d9ecf8"/><use href="#i-camera" x="225.6" y="304" width="22.5" height="24.6" /><use href="#s-wifisq" x="250" y="321.2" width="8.2" height="7.6" preserveAspectRatio="none"/><text transform="translate(236 335.8) scale(0.8701 1)" font-size="4.6" fill="#3a3a3a" text-anchor="middle">Dining Room Ca...</text><text transform="translate(236 342.3) scale(0.8944 1)" font-size="4.5" fill="#2a2a2a" text-anchor="middle">192.168.1.22</text><use href="#i-tv" x="272" y="305.4" width="26" height="22" /><use href="#s-wifisq" x="298.4" y="321.2" width="8.2" height="7.6" preserveAspectRatio="none"/><text transform="translate(284.4 335.8) scale(0.8605 1)" font-size="4.6" fill="#3a3a3a" text-anchor="middle">Family Room TV</text><text transform="translate(284.4 342.3) scale(0.8944 1)" font-size="4.5" fill="#2a2a2a" text-anchor="middle">192.168.1.20</text><use href="#i-camera" x="322.5" y="304" width="22.5" height="24.6" /><use href="#s-wifisq" x="346.9" y="321.2" width="8.2" height="7.6" preserveAspectRatio="none"/><text transform="translate(332.9 335.8) scale(0.8565 1)" font-size="4.6" fill="#3a3a3a" text-anchor="middle">Front Entry Ca...</text><text transform="translate(332.9 342.3) scale(0.8944 1)" font-size="4.5" fill="#2a2a2a" text-anchor="middle">192.168.1.21</text><use href="#i-box" x="368.2" y="304.8" width="26" height="24" /><use href="#s-eth" x="395.2" y="321.2" width="8.2" height="7.6" preserveAspectRatio="none"/><text transform="translate(381.2 335.8) scale(0.8697 1)" font-size="4.6" fill="#3a3a3a" text-anchor="middle">Home Automation</text><text transform="translate(381.2 342.3) scale(0.9086 1)" font-size="4.5" fill="#2a2a2a" text-anchor="middle">192.168.1.3</text><use href="#i-printer" x="222.6" y="350.4" width="26" height="23.6" /><use href="#s-wifisq" x="250" y="366.6" width="8.2" height="7.6" preserveAspectRatio="none"/><text transform="translate(236 380) scale(0.8346 1)" font-size="4.6" fill="#222a50" font-weight="bold" text-anchor="middle">HP Officejet 4620</text><text transform="translate(236 386.5) scale(0.9086 1)" font-size="4.5" fill="#2a2a2a" text-anchor="middle">192.168.1.4</text><use href="#i-desktop" x="272.2" y="349.2" width="25" height="26" /><text transform="translate(284.4 380) scale(0.6230 1)" font-size="4.6" fill="#3a3a3a" text-anchor="middle">HP...</text><text transform="translate(284.4 386.5) scale(0.9086 1)" font-size="4.5" fill="#2a2a2a" text-anchor="middle">192.168.1.5</text><use href="#i-camera" x="322.5" y="349.4" width="22.5" height="24.6" /><text transform="translate(332.9 380) scale(0.8163 1)" font-size="4.6" fill="#3a3a3a" text-anchor="middle">Living Room...</text><text transform="translate(332.9 386.5) scale(0.8944 1)" font-size="4.5" fill="#2a2a2a" text-anchor="middle">192.168.1.18</text><use href="#i-switch" x="368.2" y="350.2" width="26" height="24" /><use href="#s-wifisq" x="395.2" y="366.6" width="8.2" height="7.6" preserveAspectRatio="none"/><text transform="translate(381.2 380) scale(0.8323 1)" font-size="4.6" fill="#3a3a3a" text-anchor="middle">Master BR Blue...</text><text transform="translate(381.2 386.5) scale(0.9086 1)" font-size="4.5" fill="#2a2a2a" text-anchor="middle">192.168.1.7</text><rect x="279.8" y="359.4" width="89.4" height="21" fill="#fff" stroke="#c4c8cc" stroke-width="0.8" rx="0.8"/><text transform="translate(283 367.7) scale(0.8745 1)" font-size="5.6" fill="#4a4a4a">Living Room Camera</text><text transform="translate(283 374.5) scale(0.9468 1)" font-size="3.8" fill="#333">Online</text><text transform="translate(294.6 374.5) scale(1.0220 1)" font-size="3.8" fill="#111" font-weight="bold">WiFi a</text><path d="M312.2 375.2 L309.4 371.8 Q312.2 369.8 315 371.8 Z" fill="#333"/></g>
<g transform="translate(453.4 268.3) scale(0.7290)" ><g clip-path="url(#cpclip3)"><rect x="0" y="0" width="259" height="174.4" fill="#fff"/><rect x="0" y="23.2" width="259" height="46" fill="url(#lg-pagetop)"/><rect x="0" y="0" width="259" height="23.2" fill="url(#lg-banner)"/><g mask="url(#mk-hatch)"><rect x="56.98" y="0" width="155.4" height="23.2" fill="url(#pt-hatch)"/></g><text transform="translate(8.3 14.7) scale(0.9435 1)" font-size="9.6" fill="#fff">Control</text><text transform="translate(37.7 14.7) scale(0.8941 1)" font-size="9.6" fill="#fff" font-weight="bold">Panel</text><text transform="translate(186.4 12.6) scale(1.0081 1)" font-size="8.6" fill="#0f9a4c" stroke="#0f9a4c" stroke-width="0.34">SMART/RG</text><circle cx="232.8" cy="7.4" r="0.6" fill="none" stroke="#0f9a4c" stroke-width="0.4"/><text transform="translate(186.5 16.95) scale(0.8973 1)" font-size="3.5" fill="#129a4e" font-weight="bold">forward thinking</text><rect x="6" y="28.2" width="79.2" height="15.6" fill="#fff" stroke="#a3d2f1" stroke-width="0.9" rx="1.6"/><rect x="8.8" y="27" width="11.7" height="2.4" fill="#fff"/><text x="9.6" y="29.45" font-size="3.65" fill="#444444" font-weight="bold">Status</text><text transform="translate(10.4 36.1) scale(0.9653 1)" font-size="3.65" fill="#555555">Broadband: <tspan fill="#2fae4e">CONNECTED</tspan></text><text x="10.4" y="40.8" font-size="3.65" fill="#555555">Stage 2: Waiting for line (2)</text><rect x="6" y="49.9" width="81.3" height="26.7" fill="#fff" stroke="#a3d2f1" stroke-width="0.9" rx="1.6"/><rect x="8.8" y="48.7" width="23.71" height="2.4" fill="#fff"/><text x="9.6" y="51.15" font-size="3.65" fill="#444444" font-weight="bold">Local Network</text><use href="#s-router" x="9.4" y="54.5" width="11.5" height="7.4" /><text transform="translate(22.6 60.2) scale(0.7497 1)" font-size="5.6" fill="#2c3e98">Local Network</text><text transform="translate(11.4 67.5) scale(0.8600 1)" font-size="3.65" fill="#555555">Known Devices:</text><text x="54" y="67.5" font-size="3.65" fill="#3a3a3a" font-weight="bold">47</text><text transform="translate(11.4 72.5) scale(0.8805 1)" font-size="3.65" fill="#555555">Devices Online:</text><text x="54" y="72.5" font-size="3.65" fill="#3a3a3a" font-weight="bold">13</text><rect x="6" y="81.6" width="81.3" height="21.7" fill="#fff" stroke="#a3d2f1" stroke-width="0.9" rx="1.6"/><rect x="8.8" y="80.4" width="34" height="2.4" fill="#fff"/><text x="9.6" y="82.85" font-size="3.65" fill="#444444" font-weight="bold">My Wireless Network</text><use href="#s-wifiicon" x="10.2" y="86" width="9.6" height="6.4" /><text x="22.4" y="91.2" font-size="4.3" fill="#2c3e98" font-weight="bold">WiFi</text><text transform="translate(11.4 99) scale(0.8164 1)" font-size="3.65" fill="#555555">Network Name(s):</text><text transform="translate(54.6 99) scale(1.0397 1)" font-size="3.65" fill="#3a3a3a" font-weight="bold">pinkdaisy</text><rect x="6" y="108.8" width="81.3" height="20.4" fill="#fff" stroke="#a3d2f1" stroke-width="0.9" rx="1.6"/><rect x="8.8" y="107.6" width="15.13" height="2.4" fill="#fff"/><text x="9.6" y="110.05" font-size="3.65" fill="#444444" font-weight="bold">Advanced</text><use href="#s-globe" x="11" y="113.5" width="6.8" height="6.8" /><text transform="translate(11.4 124.6) scale(0.9081 1)" font-size="3.65" fill="#555555">Active Port Forwards : 32</text><rect x="90" y="27.6" width="162.3" height="11.9" fill="url(#lg-fs)" stroke="#a3d2f1" stroke-width="0.8"/><rect x="92.3" y="30.6" width="6.3" height="7" fill="#f4c430" stroke="#e0a810" stroke-width="0.5" rx="1.2"/><text transform="translate(101.8 35.4) scale(0.8623 1)" font-size="3.7" fill="#6a6a6a">Refresh in progress...</text><rect x="90" y="43" width="162.3" height="4.9" fill="url(#lg-navy)"/><text x="92.4" y="46.8" font-size="3.65" fill="#fff" font-weight="bold">Local Network</text><text x="92.4" y="53.2" font-size="3.65" fill="#2c3e98">Network</text><text transform="translate(105.6 53.2) scale(0.9111 1)" font-size="3.65" fill="#555555">/ SFR-0097</text><rect x="90" y="59" width="162.3" height="36.8" fill="url(#lg-fs)" stroke="#a3d2f1" stroke-width="0.9" rx="1.6"/><rect x="92.8" y="57.8" width="32.29" height="2.4" fill="#e4f1fb"/><text x="93.6" y="60.25" font-size="3.65" fill="#444444" font-weight="bold">Device Information</text><use href="#i-desktop" x="94" y="64.6" width="22" height="19.6" /><text transform="translate(118.4 70.6) scale(0.7516 1)" font-size="3.65" fill="#555555">SFR-0097</text><rect x="118.6" y="74.8" width="27.4" height="5" fill="#2a70c6" rx="0.6"/><text transform="translate(119.6 78.5) scale(0.6983 1)" font-size="3.65" fill="#fff" font-weight="bold">Edit Hostname / Icon</text><text transform="translate(154 72.4) scale(0.8517 1)" font-size="3.65" fill="#555555">MAC Address</text><text transform="translate(179.6 72.4) scale(0.8873 1)" font-size="3.65" fill="#3a3a3a" font-weight="bold">00:62:6e:4e:8a:33</text><text transform="translate(154 77.8) scale(0.8532 1)" font-size="3.65" fill="#555555">IP Address</text><text transform="translate(179.6 77.8) scale(0.8819 1)" font-size="3.65" fill="#3a3a3a" font-weight="bold">192.168.1.5</text><text x="154" y="87.6" font-size="3.65" fill="#555555">Status</text><text x="179.6" y="87.6" font-size="3.65" fill="#555555">Online</text><text x="179.6" y="92.4" font-size="3.65" fill="#3a3a3a" font-weight="bold">WiFi</text><rect x="90" y="100.6" width="162.3" height="7.2" fill="url(#lg-fs)" stroke="#a3d2f1" stroke-width="0.9" rx="1.6"/><rect x="92.8" y="99.4" width="27.14" height="2.4" fill="#e4f1fb"/><text x="93.6" y="101.85" font-size="3.65" fill="#444444" font-weight="bold">Active Services</text><rect x="90" y="112.2" width="162.3" height="13.4" fill="url(#lg-fs)" stroke="#a3d2f1" stroke-width="0.9" rx="1.6"/><rect x="92.8" y="111" width="32.29" height="2.4" fill="#e4f1fb"/><text x="93.6" y="113.45" font-size="3.65" fill="#444444" font-weight="bold">Web User Interface</text><rect x="91.6" y="118.2" width="41.2" height="5.2" fill="#2a70c6" rx="0.6"/><text transform="translate(92.8 121.9) scale(0.7396 1)" font-size="3.65" fill="#fff" font-weight="bold">Enable Local Gateway Access</text><rect x="90" y="129.8" width="162.3" height="26.4" fill="url(#lg-fs)" stroke="#a3d2f1" stroke-width="0.9" rx="1.6"/><rect x="92.8" y="128.6" width="8.26" height="2.4" fill="#e4f1fb"/><text x="93.6" y="131.05" font-size="3.65" fill="#444444" font-weight="bold">Help</text><text transform="translate(92.6 139.5) scale(0.8864 1)" font-size="3.65" fill="#555555">Lost in your local site?</text><text transform="translate(92.6 149.1) scale(0.8444 1)" font-size="3.65" fill="#2c3e98">Manage your Gateway</text><rect x="0" y="164" width="259" height="0.8" fill="#b9dcf3"/><text transform="translate(4 171.5) scale(0.7418 1)" font-size="3.65" fill="#6a6a6a">Copyright © 2013 SmartRG, Inc.</text><text transform="translate(80 171.5) scale(0.7826 1)" font-size="3.65" fill="#2c3e98">About My Gateway · Synchronize with Gateway · Change Passphrase · Logout</text><text transform="translate(243 170.4) scale(0.4830 1)" font-size="3.65" fill="#4a4a4a" font-weight="bold">SMART/RG</text></g></g>
<g transform="translate(702.2 270) scale(0.5965)" ><g clip-path="url(#cpclip4)"><rect x="0" y="0" width="259" height="208.9" fill="#fff"/><rect x="0" y="23.2" width="259" height="46" fill="url(#lg-pagetop)"/><rect x="0" y="0" width="259" height="23.2" fill="url(#lg-banner)"/><g mask="url(#mk-hatch)"><rect x="56.98" y="0" width="155.4" height="23.2" fill="url(#pt-hatch)"/></g><text transform="translate(8.3 14.7) scale(0.9435 1)" font-size="9.6" fill="#fff">Control</text><text transform="translate(37.7 14.7) scale(0.8941 1)" font-size="9.6" fill="#fff" font-weight="bold">Panel</text><text transform="translate(186.4 12.6) scale(1.0081 1)" font-size="8.6" fill="#0f9a4c" stroke="#0f9a4c" stroke-width="0.34">SMART/RG</text><circle cx="232.8" cy="7.4" r="0.6" fill="none" stroke="#0f9a4c" stroke-width="0.4"/><text transform="translate(186.5 16.95) scale(0.8973 1)" font-size="3.5" fill="#129a4e" font-weight="bold">forward thinking</text><rect x="6" y="28.2" width="79.2" height="15.6" fill="#fff" stroke="#a3d2f1" stroke-width="0.9" rx="1.6"/><rect x="8.8" y="27" width="11.7" height="2.4" fill="#fff"/><text x="9.6" y="29.45" font-size="4.46" fill="#444444" font-weight="bold">Status</text><text transform="translate(10.4 36.1) scale(0.7898 1)" font-size="4.46" fill="#555555">Broadband: <tspan fill="#2fae4e">CONNECTED</tspan></text><text x="10.4" y="40.8" font-size="4.46" fill="#555555">Stage 2: Waiting for line (2)</text><rect x="6" y="49.9" width="81.3" height="26.7" fill="#fff" stroke="#a3d2f1" stroke-width="0.9" rx="1.6"/><rect x="8.8" y="48.7" width="23.71" height="2.4" fill="#fff"/><text x="9.6" y="51.15" font-size="4.46" fill="#444444" font-weight="bold">Local Network</text><use href="#s-router" x="9.4" y="54.5" width="11.5" height="7.4" /><text transform="translate(22.6 60.2) scale(0.7497 1)" font-size="5.6" fill="#2c3e98">Local Network</text><text transform="translate(11.4 67.5) scale(0.7037 1)" font-size="4.46" fill="#555555">Known Devices:</text><text x="54" y="67.5" font-size="4.46" fill="#3a3a3a" font-weight="bold">47</text><text transform="translate(11.4 72.5) scale(0.7205 1)" font-size="4.46" fill="#555555">Devices Online:</text><text x="54" y="72.5" font-size="4.46" fill="#3a3a3a" font-weight="bold">13</text><rect x="6" y="81.6" width="81.3" height="21.7" fill="#fff" stroke="#a3d2f1" stroke-width="0.9" rx="1.6"/><rect x="8.8" y="80.4" width="34" height="2.4" fill="#fff"/><text x="9.6" y="82.85" font-size="4.46" fill="#444444" font-weight="bold">My Wireless Network</text><use href="#s-wifiicon" x="10.2" y="86" width="9.6" height="6.4" /><text x="22.4" y="91.2" font-size="4.46" fill="#2c3e98" font-weight="bold">WiFi</text><text transform="translate(11.4 99) scale(0.6680 1)" font-size="4.46" fill="#555555">Network Name(s):</text><text transform="translate(54.6 99) scale(0.8507 1)" font-size="4.46" fill="#3a3a3a" font-weight="bold">pinkdaisy</text><rect x="6" y="108.8" width="81.3" height="20.4" fill="#fff" stroke="#a3d2f1" stroke-width="0.9" rx="1.6"/><rect x="8.8" y="107.6" width="15.13" height="2.4" fill="#fff"/><text x="9.6" y="110.05" font-size="4.46" fill="#444444" font-weight="bold">Advanced</text><use href="#s-globe" x="11" y="113.5" width="6.8" height="6.8" /><text transform="translate(11.4 124.6) scale(0.7431 1)" font-size="4.46" fill="#555555">Active Port Forwards : 32</text><rect x="90" y="27.6" width="162.3" height="11.9" fill="url(#lg-fs)" stroke="#a3d2f1" stroke-width="0.8"/><rect x="92.3" y="30.6" width="6.3" height="7" fill="#f4c430" stroke="#e0a810" stroke-width="0.5" rx="1.2"/><text transform="translate(101.8 35.4) scale(0.7155 1)" font-size="4.46" fill="#6a6a6a">Refresh in progress...</text><rect x="90" y="43" width="162.3" height="4.9" fill="url(#lg-navy)"/><text x="92.4" y="46.8" font-size="4.46" fill="#fff" font-weight="bold">Local Network</text><text x="92.4" y="53.2" font-size="4.46" fill="#2c3e98">Network</text><text transform="translate(105.6 53.2) scale(0.7455 1)" font-size="4.46" fill="#555555">/ SFR-0097</text><rect x="90" y="59" width="162.3" height="36.8" fill="url(#lg-fs)" stroke="#a3d2f1" stroke-width="0.9" rx="1.6"/><rect x="92.8" y="57.8" width="32.29" height="2.4" fill="#e4f1fb"/><text x="93.6" y="60.25" font-size="4.46" fill="#444444" font-weight="bold">Device Information</text><use href="#i-desktop" x="94" y="64.6" width="22" height="19.6" /><text transform="translate(118.4 70.6) scale(0.6150 1)" font-size="4.46" fill="#555555">SFR-0097</text><rect x="118.6" y="74.8" width="27.4" height="5" fill="#2a70c6" rx="0.6"/><text transform="translate(119.6 78.5) scale(0.5714 1)" font-size="4.46" fill="#fff" font-weight="bold">Edit Hostname / Icon</text><text transform="translate(154 72.4) scale(0.6969 1)" font-size="4.46" fill="#555555">MAC Address</text><text transform="translate(179.6 72.4) scale(0.7260 1)" font-size="4.46" fill="#3a3a3a" font-weight="bold">00:62:6e:4e:8a:33</text><text transform="translate(154 77.8) scale(0.6982 1)" font-size="4.46" fill="#555555">IP Address</text><text transform="translate(179.6 77.8) scale(0.7216 1)" font-size="4.46" fill="#3a3a3a" font-weight="bold">192.168.1.5</text><text x="154" y="87.6" font-size="4.46" fill="#555555">Status</text><text x="179.6" y="87.6" font-size="4.46" fill="#555555">Online</text><text x="179.6" y="92.4" font-size="4.46" fill="#3a3a3a" font-weight="bold">WiFi</text><rect x="90" y="100.6" width="162.3" height="7.2" fill="url(#lg-fs)" stroke="#a3d2f1" stroke-width="0.9" rx="1.6"/><rect x="92.8" y="99.4" width="27.14" height="2.4" fill="#e4f1fb"/><text x="93.6" y="101.85" font-size="4.46" fill="#444444" font-weight="bold">Active Services</text><rect x="90" y="112.2" width="162.3" height="13.4" fill="url(#lg-fs)" stroke="#a3d2f1" stroke-width="0.9" rx="1.6"/><rect x="92.8" y="111" width="32.29" height="2.4" fill="#e4f1fb"/><text x="93.6" y="113.45" font-size="4.46" fill="#444444" font-weight="bold">Web User Interface</text><rect x="91.6" y="118.2" width="41.2" height="5.2" fill="#2a70c6" rx="0.6"/><text transform="translate(92.8 121.9) scale(0.6052 1)" font-size="4.46" fill="#fff" font-weight="bold">Enable Local Gateway Access</text><rect x="90" y="129.8" width="162.3" height="26.4" fill="url(#lg-fs)" stroke="#a3d2f1" stroke-width="0.9" rx="1.6"/><rect x="92.8" y="128.6" width="8.26" height="2.4" fill="#e4f1fb"/><text x="93.6" y="131.05" font-size="4.46" fill="#444444" font-weight="bold">Help</text><text transform="translate(92.6 139.5) scale(0.7253 1)" font-size="4.46" fill="#555555">Lost in your local site?</text><text transform="translate(92.6 149.1) scale(0.6909 1)" font-size="4.46" fill="#2c3e98">Manage your Gateway</text><rect x="0" y="164" width="259" height="0.8" fill="#b9dcf3"/><text transform="translate(4 171.5) scale(0.6069 1)" font-size="4.46" fill="#6a6a6a">Copyright © 2013 SmartRG, Inc.</text><text transform="translate(80 171.5) scale(0.6404 1)" font-size="4.46" fill="#2c3e98">About My Gateway · Synchronize with Gateway · Change Passphrase · Logout</text><text transform="translate(243 170.4) scale(0.3953 1)" font-size="4.46" fill="#4a4a4a" font-weight="bold">SMART/RG</text><rect x="0" y="165" width="259" height="60" fill="#fdfdfd"/><rect x="0" y="164.2" width="259" height="0.9" fill="#9ac4e0"/><text transform="translate(4 172.4) scale(0.6151 1)" font-size="4.4" fill="#555">Copyright © 2013 SmartRG, Inc.</text></g></g>
<rect x="702.2" y="270" width="154.5" height="124.6" fill="rgba(0,0,0,0.67)"/>
<rect x="722.8" y="288.6" width="110.1" height="89.2" fill="#fff"/><rect x="722.8" y="288.6" width="110.1" height="4.2" fill="url(#lg-mhead)"/><rect x="829.8" y="289" width="2.6" height="3.2" fill="#2a7ad0" rx="0.5"/><text transform="translate(725 297.2) scale(0.7122 1)" font-size="2.5" fill="#222">Host Name:</text><rect x="735.2" y="294" width="30.8" height="4" fill="#eef6fc" stroke="#7ab8e6" stroke-width="0.6"/><text transform="translate(736.2 297.1) scale(0.7899 1)" font-size="2.5" fill="#222">SFR-0097</text><text transform="translate(725 300.2) scale(0.7156 1)" font-size="2.3" fill="#222">Select Icon:</text><rect x="725" y="300.8" width="106" height="68.4" fill="#fff" stroke="#e2e2e2" stroke-width="0.5"/><use href="#i-desktop" x="726.7" y="304.2" width="14.4" height="14.4" /><use href="#i-imac" x="743.42" y="304.2" width="14.4" height="14.4" /><use href="#i-laptop" x="760.14" y="304.2" width="14.4" height="14.4" /><use href="#i-laptopdark" x="776.86" y="304.2" width="14.4" height="14.4" /><use href="#i-console" x="793.58" y="304.2" width="14.4" height="14.4" /><use href="#i-camera" x="810.3" y="304.2" width="14.4" height="14.4" /><use href="#i-phone" x="726.7" y="320.3" width="14.4" height="14.4" /><use href="#i-tablet" x="743.42" y="320.3" width="14.4" height="14.4" /><use href="#i-voip" x="760.14" y="320.3" width="14.4" height="14.4" /><use href="#i-printer" x="776.86" y="320.3" width="14.4" height="14.4" /><use href="#i-copier" x="793.58" y="320.3" width="14.4" height="14.4" /><use href="#i-camera2" x="810.3" y="320.3" width="14.4" height="14.4" /><use href="#i-whitebox" x="726.7" y="336.4" width="14.4" height="14.4" /><use href="#i-bluray" x="743.42" y="336.4" width="14.4" height="14.4" /><use href="#i-tv" x="760.14" y="336.4" width="14.4" height="14.4" /><use href="#i-blacktower" x="776.86" y="336.4" width="14.4" height="14.4" /><use href="#i-frame" x="793.58" y="336.4" width="14.4" height="14.4" /><use href="#i-scanner" x="810.3" y="336.4" width="14.4" height="14.4" /><use href="#i-router" x="726.7" y="352.5" width="14.4" height="14.4" /><use href="#i-tower" x="743.42" y="352.5" width="14.4" height="14.4" /><use href="#i-scanner" x="760.14" y="352.5" width="14.4" height="14.4" /><use href="#i-nas" x="776.86" y="352.5" width="14.4" height="14.4" /><text transform="translate(819.4 376.2) scale(0.9218 1)" font-size="2.3" fill="#4a74b0">Cancel</text><rect x="827.4" y="373" width="4.3" height="3.9" fill="#2a8ad8" rx="0.6"/><rect x="828.4" y="373" width="2.2" height="1.4" fill="#fff"/>
<rect x="671.4" y="97.5" width="219.5" height="137.6" fill="none" stroke="#3e4e60" stroke-width="1"/>
<rect x="540.4" y="259.3" width="157.9" height="80.9" fill="none" stroke="#5a6874" stroke-width="0.6"/>
<circle cx="339.9" cy="58.7" r="13.5" fill="none" stroke="rgba(90,182,115,0.8)" stroke-width="4"/><circle cx="339.9" cy="58.7" r="7.7" fill="rgba(90,182,115,0.8)"/>
<circle cx="311.9" cy="119.9" r="13.5" fill="none" stroke="rgba(90,182,115,0.8)" stroke-width="4"/><circle cx="311.9" cy="119.9" r="7.7" fill="rgba(90,182,115,0.8)"/>
<circle cx="351.6" cy="159.4" r="13.5" fill="none" stroke="rgba(90,182,115,0.8)" stroke-width="4"/><circle cx="351.6" cy="159.4" r="7.7" fill="rgba(90,182,115,0.8)"/>
<circle cx="295.8" cy="187.6" r="13.5" fill="none" stroke="rgba(90,182,115,0.8)" stroke-width="4"/><circle cx="295.8" cy="187.6" r="7.7" fill="rgba(90,182,115,0.8)"/>
<circle cx="117.5" cy="147.7" r="13.5" fill="none" stroke="rgba(90,182,115,0.8)" stroke-width="4"/><circle cx="117.5" cy="147.7" r="7.7" fill="rgba(90,182,115,0.8)"/>
<circle cx="573.9" cy="145.8" r="8.65" fill="none" stroke="rgba(90,182,115,0.8)" stroke-width="3.3"/><circle cx="573.9" cy="145.8" r="5.3" fill="rgba(90,182,115,0.8)"/>
<circle cx="573.5" cy="315.3" r="8.65" fill="none" stroke="rgba(90,182,115,0.8)" stroke-width="3.3"/><circle cx="573.5" cy="315.3" r="5.3" fill="rgba(90,182,115,0.8)"/>
<line x1="337.8" y1="58.9" x2="440.92" y2="45.52" stroke="#0b4a3c" stroke-width="2.4" stroke-linecap="round"/><polyline points="436.28,51.54 440.92,45.52 434.9,40.88" fill="none" stroke="#0b4a3c" stroke-width="2.4" stroke-linejoin="miter" stroke-linecap="butt"/>
<line x1="310.4" y1="120" x2="452.01" y2="133.34" stroke="#0b4a3c" stroke-width="2.4" stroke-linecap="round"/><polyline points="446.16,138.19 452.01,133.34 447.16,127.49" fill="none" stroke="#0b4a3c" stroke-width="2.4" stroke-linejoin="miter" stroke-linecap="butt"/>
<line x1="350.8" y1="158.6" x2="442.17" y2="261.53" stroke="#0b4a3c" stroke-width="2.4" stroke-linecap="round"/><polyline points="434.59,261.08 442.17,261.53 442.62,253.94" fill="none" stroke="#0b4a3c" stroke-width="2.4" stroke-linejoin="miter" stroke-linecap="butt"/>
<line x1="296.7" y1="185.6" x2="326.72" y2="287.77" stroke="#0b4a3c" stroke-width="2.4" stroke-linecap="round"/><polyline points="320.05,284.13 326.72,287.77 330.36,281.1" fill="none" stroke="#0b4a3c" stroke-width="2.4" stroke-linejoin="miter" stroke-linecap="butt"/>
<line x1="116.8" y1="146.4" x2="102.18" y2="285.11" stroke="#0b4a3c" stroke-width="2.4" stroke-linecap="round"/><polyline points="97.4,279.2 102.18,285.11 108.09,280.33" fill="none" stroke="#0b4a3c" stroke-width="2.4" stroke-linejoin="miter" stroke-linecap="butt"/>
<line x1="638.5" y1="69.9" x2="673.29" y2="44.46" stroke="#0b4a3c" stroke-width="2.3" stroke-linecap="round"/><polyline points="672.28,50.98 673.29,44.46 666.77,43.45" fill="none" stroke="#0b4a3c" stroke-width="2.3" stroke-linejoin="miter" stroke-linecap="butt"/>
<line x1="573" y1="145.7" x2="683.01" y2="145.9" stroke="#0b4a3c" stroke-width="3.5" stroke-linecap="round"/><polyline points="678.09,151.15 683.01,145.9 678.11,140.62" fill="none" stroke="#0b4a3c" stroke-width="3.5" stroke-linejoin="miter" stroke-linecap="butt"/>
<line x1="574" y1="315.5" x2="683.28" y2="315.79" stroke="#0b4a3c" stroke-width="3.4" stroke-linecap="round"/><polyline points="678.42,320.97 683.28,315.79 678.45,310.59" fill="none" stroke="#0b4a3c" stroke-width="3.4" stroke-linejoin="miter" stroke-linecap="butt"/>
</g>
</svg>
</body></html>
